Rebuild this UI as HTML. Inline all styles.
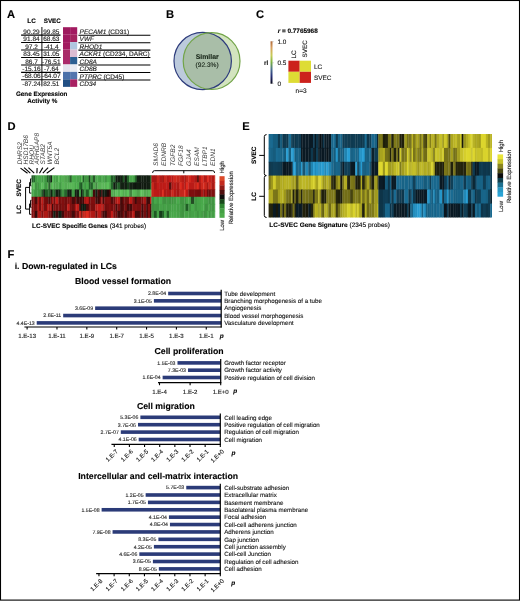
<!DOCTYPE html>
<html><head><meta charset="utf-8"><style>
html,body{margin:0;padding:0;background:#fff;}
svg{display:block;font-family:"Liberation Sans",sans-serif;will-change:transform;text-rendering:geometricPrecision;}
text{stroke:#000;stroke-width:0.12px;paint-order:stroke;}
text.ns{stroke:none;}
</style></head><body>
<svg width="520" height="601" viewBox="0 0 520 601">
<rect x="0" y="0" width="520" height="601" fill="#fff"/>
<rect x="0.5" y="0.5" width="519" height="599.6" fill="none" stroke="#000" stroke-width="1.1"/>
<text x="7.10" y="17.50" font-size="11.2" font-weight="bold">A</text>
<text x="165.90" y="17.50" font-size="11.2" font-weight="bold">B</text>
<text x="255.90" y="17.70" font-size="11.2" font-weight="bold">C</text>
<text x="7.60" y="130.30" font-size="11.2" font-weight="bold">D</text>
<text x="242.20" y="130.30" font-size="11.2" font-weight="bold">E</text>
<text x="7.60" y="257.80" font-size="11.2" font-weight="bold">F</text>
<text x="31.60" y="22.80" font-size="6.4" font-weight="bold" text-anchor="middle">LC</text>
<text x="52.30" y="22.80" font-size="6.3" font-weight="bold" text-anchor="middle">SVEC</text>
<text x="31.50" y="33.70" font-size="6.5" text-anchor="middle" fill="#222">90.29</text>
<text x="51.30" y="33.70" font-size="6.5" text-anchor="middle" fill="#222">99.85</text>
<text x="31.50" y="41.15" font-size="6.5" text-anchor="middle" fill="#222">91.84</text>
<text x="51.30" y="41.15" font-size="6.5" text-anchor="middle" fill="#222">68.63</text>
<text x="31.50" y="48.60" font-size="6.5" text-anchor="middle" fill="#222">97.2</text>
<text x="51.30" y="48.60" font-size="6.5" text-anchor="middle" fill="#222">-41.4</text>
<text x="31.50" y="56.05" font-size="6.5" text-anchor="middle" fill="#222">83.45</text>
<text x="51.30" y="56.05" font-size="6.5" text-anchor="middle" fill="#222">31.05</text>
<text x="31.50" y="63.50" font-size="6.5" text-anchor="middle" fill="#222">86.7</text>
<text x="51.30" y="63.50" font-size="6.5" text-anchor="middle" fill="#222">-76.51</text>
<text x="31.50" y="70.95" font-size="6.5" text-anchor="middle" fill="#222">-15.16</text>
<text x="51.30" y="70.95" font-size="6.5" text-anchor="middle" fill="#222">-7.64</text>
<text x="31.50" y="78.40" font-size="6.5" text-anchor="middle" fill="#222">-68.06</text>
<text x="51.30" y="78.40" font-size="6.5" text-anchor="middle" fill="#222">-64.07</text>
<text x="31.50" y="85.85" font-size="6.5" text-anchor="middle" fill="#222">-87.24</text>
<text x="51.30" y="85.85" font-size="6.5" text-anchor="middle" fill="#222">82.51</text>
<line x1="21.10" y1="35.10" x2="60.50" y2="35.10" stroke="#000" stroke-width="1.05"/>
<line x1="21.10" y1="42.55" x2="60.50" y2="42.55" stroke="#000" stroke-width="1.05"/>
<line x1="21.10" y1="50.00" x2="60.50" y2="50.00" stroke="#000" stroke-width="1.05"/>
<line x1="21.10" y1="57.45" x2="60.50" y2="57.45" stroke="#000" stroke-width="1.05"/>
<line x1="21.10" y1="64.90" x2="60.50" y2="64.90" stroke="#000" stroke-width="1.05"/>
<line x1="21.10" y1="72.35" x2="60.50" y2="72.35" stroke="#000" stroke-width="1.05"/>
<line x1="21.10" y1="79.80" x2="60.50" y2="79.80" stroke="#000" stroke-width="1.05"/>
<line x1="41.90" y1="27.00" x2="41.90" y2="86.30" stroke="#000" stroke-width="0.95"/>
<rect x="63.00" y="27.20" width="7.10" height="7.50" fill="#9e1a5e"/>
<rect x="70.10" y="27.20" width="7.10" height="7.50" fill="#a21a60"/>
<rect x="63.00" y="34.65" width="7.10" height="7.50" fill="#a01a60"/>
<rect x="70.10" y="34.65" width="7.10" height="7.50" fill="#a4245f"/>
<rect x="63.00" y="42.10" width="7.10" height="7.50" fill="#a21c60"/>
<rect x="70.10" y="42.10" width="7.10" height="7.50" fill="#b0c6df"/>
<rect x="63.00" y="49.55" width="7.10" height="7.50" fill="#a82c68"/>
<rect x="70.10" y="49.55" width="7.10" height="7.50" fill="#dcbcd2"/>
<rect x="63.00" y="57.00" width="7.10" height="7.50" fill="#aa2a6a"/>
<rect x="70.10" y="57.00" width="7.10" height="7.50" fill="#2b5e92"/>
<rect x="63.00" y="64.45" width="7.10" height="7.50" fill="#e4e4ee"/>
<rect x="70.10" y="64.45" width="7.10" height="7.50" fill="#e8eaf3"/>
<rect x="63.00" y="71.90" width="7.10" height="7.50" fill="#4b71a9"/>
<rect x="70.10" y="71.90" width="7.10" height="7.50" fill="#5475ae"/>
<rect x="63.00" y="79.35" width="7.10" height="7.50" fill="#214f84"/>
<rect x="70.10" y="79.35" width="7.10" height="7.50" fill="#a82062"/>
<text x="79.6" y="33.90" font-size="6.5" fill="#222"><tspan font-style="italic">PECAM1</tspan> (CD31)</text>
<text x="79.6" y="41.35" font-size="6.5" fill="#222"><tspan font-style="italic">VWF</tspan></text>
<text x="79.6" y="48.80" font-size="6.5" fill="#222"><tspan font-style="italic">RHOD1</tspan></text>
<text x="79.6" y="56.25" font-size="6.5" fill="#222"><tspan font-style="italic">ACKR1</tspan> (CD234, DARC)</text>
<text x="79.6" y="63.70" font-size="6.5" fill="#222"><tspan font-style="italic">CD8A</tspan></text>
<text x="79.6" y="71.15" font-size="6.5" fill="#222"><tspan font-style="italic">CD8B</tspan></text>
<text x="79.6" y="78.60" font-size="6.5" fill="#222"><tspan font-style="italic">PTPRC</tspan> (CD45)</text>
<text x="79.6" y="86.05" font-size="6.5" fill="#222"><tspan font-style="italic">CD34</tspan></text>
<line x1="78.40" y1="35.20" x2="150.40" y2="35.20" stroke="#000" stroke-width="1.05"/>
<line x1="78.40" y1="42.65" x2="150.40" y2="42.65" stroke="#000" stroke-width="1.05"/>
<line x1="78.40" y1="50.10" x2="150.40" y2="50.10" stroke="#000" stroke-width="1.05"/>
<line x1="78.40" y1="57.55" x2="150.40" y2="57.55" stroke="#000" stroke-width="1.05"/>
<line x1="78.40" y1="65.00" x2="150.40" y2="65.00" stroke="#000" stroke-width="1.05"/>
<line x1="78.40" y1="72.45" x2="150.40" y2="72.45" stroke="#000" stroke-width="1.05"/>
<line x1="78.40" y1="79.90" x2="150.40" y2="79.90" stroke="#000" stroke-width="1.05"/>
<text x="41.70" y="95.60" font-size="6.3" font-weight="bold" text-anchor="middle">Gene Expression</text>
<text x="42.30" y="103.20" font-size="6.3" font-weight="bold" text-anchor="middle">Activity %</text>
<defs><clipPath id="cg"><circle cx="211.6" cy="61" r="28.4"/></clipPath></defs>
<circle cx="211.6" cy="61" r="28.4" fill="#d3e4bf"/>
<circle cx="202.7" cy="61" r="28.7" fill="#bccadc"/>
<circle cx="202.7" cy="61" r="28.7" fill="#a9bea8" clip-path="url(#cg)"/>
<circle cx="202.7" cy="61" r="28.7" fill="none" stroke="#2e3c7c" stroke-width="1.2"/>
<circle cx="211.6" cy="61" r="28.4" fill="none" stroke="#72a448" stroke-width="1.2"/>
<text x="207.20" y="59.40" font-size="6.9" font-weight="bold" text-anchor="middle" fill="#1a2a1a">Similar</text>
<text x="207.10" y="67.20" font-size="6.6" text-anchor="middle" fill="#1a2a1a">(92.3%)</text>
<text x="277.7" y="32.8" font-size="6.4" font-weight="bold"><tspan font-style="italic">r</tspan> = 0.7765968</text>
<defs><linearGradient id="cb" x1="0" y1="0" x2="0" y2="1"><stop offset="0" stop-color="#b06a3a"/><stop offset="0.15" stop-color="#d8a060"/><stop offset="0.33" stop-color="#c8cc58"/><stop offset="0.5" stop-color="#78b040"/><stop offset="0.66" stop-color="#4a7090"/><stop offset="0.82" stop-color="#283078"/><stop offset="1" stop-color="#080818"/></linearGradient></defs>
<rect x="270.50" y="41.30" width="2.00" height="42.40" fill="url(#cb)"/>
<text x="277.50" y="43.90" font-size="6.4" fill="#222">1.0</text>
<line x1="272.50" y1="41.70" x2="273.60" y2="41.70" stroke="#888" stroke-width="0.5"/>
<text x="277.50" y="65.00" font-size="6.4" fill="#222">0.5</text>
<line x1="272.50" y1="62.80" x2="273.60" y2="62.80" stroke="#888" stroke-width="0.5"/>
<text x="277.50" y="85.60" font-size="6.4" fill="#222">0</text>
<line x1="272.50" y1="83.40" x2="273.60" y2="83.40" stroke="#888" stroke-width="0.5"/>
<text x="264.00" y="65.20" font-size="6.4" font-weight="bold" fill="#222">rl</text>
<rect x="288.40" y="60.70" width="11.30" height="11.10" fill="#cc221c"/>
<rect x="299.70" y="60.70" width="11.30" height="11.10" fill="#dedc34"/>
<rect x="288.40" y="71.80" width="11.30" height="11.10" fill="#dedc34"/>
<rect x="299.70" y="71.80" width="11.30" height="11.10" fill="#cc221c"/>
<text x="296.40" y="58.60" font-size="6.4" text-anchor="start" fill="#222" transform="rotate(-90 296.40 58.60)">LC</text>
<text x="307.40" y="57.40" font-size="6.3" text-anchor="start" fill="#222" transform="rotate(-90 307.40 57.40)">SVEC</text>
<text x="314.00" y="68.90" font-size="6.5" fill="#222">LC</text>
<text x="314.00" y="79.60" font-size="6.4" fill="#222">SVEC</text>
<text x="301.20" y="93.00" font-size="6.6" text-anchor="middle" fill="#222">n=3</text>
<text x="21.80" y="164.40" font-size="6.6" font-style="italic" fill="#3a3a3a" transform="rotate(-90 21.80 164.40)" class="ns">DHRS2</text>
<text x="28.20" y="164.40" font-size="6.6" font-style="italic" fill="#3a3a3a" transform="rotate(-90 28.20 164.40)" class="ns">HSD17B6</text>
<text x="33.80" y="164.40" font-size="6.6" font-style="italic" fill="#3a3a3a" transform="rotate(-90 33.80 164.40)" class="ns">RHOU</text>
<text x="39.50" y="164.40" font-size="6.6" font-style="italic" fill="#3a3a3a" transform="rotate(-90 39.50 164.40)" class="ns">ARHGAP8</text>
<text x="45.40" y="164.40" font-size="6.6" font-style="italic" fill="#3a3a3a" transform="rotate(-90 45.40 164.40)" class="ns">STAB2</text>
<text x="52.10" y="164.40" font-size="6.6" font-style="italic" fill="#3a3a3a" transform="rotate(-90 52.10 164.40)" class="ns">WNT5A</text>
<text x="58.80" y="164.40" font-size="6.6" font-style="italic" fill="#3a3a3a" transform="rotate(-90 58.80 164.40)" class="ns">BCL2</text>
<line x1="20.50" y1="168.10" x2="27.50" y2="173.20" stroke="#000" stroke-width="1.1"/>
<line x1="24.10" y1="167.60" x2="30.30" y2="173.20" stroke="#000" stroke-width="1.1"/>
<line x1="28.40" y1="167.60" x2="34.20" y2="173.20" stroke="#000" stroke-width="1.1"/>
<line x1="37.10" y1="168.00" x2="36.90" y2="173.20" stroke="#000" stroke-width="1.1"/>
<line x1="42.80" y1="167.60" x2="39.50" y2="173.20" stroke="#000" stroke-width="1.1"/>
<line x1="48.10" y1="167.60" x2="42.80" y2="173.20" stroke="#000" stroke-width="1.1"/>
<line x1="54.40" y1="167.60" x2="46.70" y2="173.20" stroke="#000" stroke-width="1.1"/>
<text x="157.70" y="165.90" font-size="6.6" font-style="italic" fill="#3a3a3a" transform="rotate(-90 157.70 165.90)" class="ns">SMAD6</text>
<text x="166.20" y="165.90" font-size="6.6" font-style="italic" fill="#3a3a3a" transform="rotate(-90 166.20 165.90)" class="ns">EDNRB</text>
<text x="174.80" y="165.90" font-size="6.6" font-style="italic" fill="#3a3a3a" transform="rotate(-90 174.80 165.90)" class="ns">TGFB2</text>
<text x="182.90" y="165.90" font-size="6.6" font-style="italic" fill="#3a3a3a" transform="rotate(-90 182.90 165.90)" class="ns">FGF18</text>
<text x="191.30" y="165.90" font-size="6.6" font-style="italic" fill="#3a3a3a" transform="rotate(-90 191.30 165.90)" class="ns">GJA4</text>
<text x="199.20" y="165.90" font-size="6.6" font-style="italic" fill="#3a3a3a" transform="rotate(-90 199.20 165.90)" class="ns">ESAM</text>
<text x="206.90" y="165.90" font-size="6.6" font-style="italic" fill="#3a3a3a" transform="rotate(-90 206.90 165.90)" class="ns">LTBP1</text>
<text x="214.90" y="165.90" font-size="6.6" font-style="italic" fill="#3a3a3a" transform="rotate(-90 214.90 165.90)" class="ns">EDN1</text>
<path d="M152.6,172.9 Q152.6,170.7 154.4,170.7 L212.8,170.7 Q214.6,170.7 214.6,172.9 M183.8,170.7 L183.8,173.3" fill="none" stroke="#000" stroke-width="1.0"/>
<path d="M31.5,178.8 H30.6 V185.9 H31.5 M30.6,182.4 H29.6 V193.1 H31.5 M29.6,187.4 H25.6 V209.1 H29.6 M31.5,200.3 H30.6 V207.4 H31.5 M30.6,203.9 H29.6 V214.3 H31.5" fill="none" stroke="#000" stroke-width="1.0"/>
<text x="20.90" y="187.80" font-size="6.4" font-weight="bold" text-anchor="middle" transform="rotate(-90 20.90 187.80)">SVEC</text>
<text x="20.90" y="209.50" font-size="6.4" font-weight="bold" text-anchor="middle" transform="rotate(-90 20.90 209.50)">LC</text>
<rect x="219.50" y="176.20" width="5.10" height="4.89" fill="#dc4a2a"/>
<rect x="219.50" y="180.79" width="5.10" height="4.89" fill="#c42a1e"/>
<rect x="219.50" y="185.38" width="5.10" height="4.89" fill="#901a16"/>
<rect x="219.50" y="189.97" width="5.10" height="4.89" fill="#501010"/>
<rect x="219.50" y="194.56" width="5.10" height="4.89" fill="#0e0e0e"/>
<rect x="219.50" y="199.14" width="5.10" height="4.89" fill="#1a4a1c"/>
<rect x="219.50" y="203.73" width="5.10" height="4.89" fill="#2e8430"/>
<rect x="219.50" y="208.32" width="5.10" height="4.89" fill="#44a044"/>
<rect x="219.50" y="212.91" width="5.10" height="4.89" fill="#4caa4a"/>
<text x="224.00" y="173.40" font-size="6.0" fill="#222" transform="rotate(-90 224.00 173.40)">High</text>
<text x="224.00" y="230.80" font-size="6.0" fill="#222" transform="rotate(-90 224.00 230.80)">Low</text>
<text x="233.40" y="224.30" font-size="6.0" fill="#222" transform="rotate(-90 233.40 224.30)">Relative Expression</text>
<text x="32.1" y="227.9" font-size="6.42"><tspan font-weight="bold">LC-SVEC Specific Genes</tspan> (341 probes)</text>
<path d="M266.6,134.6 Q264.3,134.6 264.3,136.6 V173.6 Q264.3,175.6 266.3,175.6 Q264.3,175.6 264.3,177.6 V215.5 Q264.3,217.5 266.6,217.5 M264.3,155.4 H259.2 M264.3,196.3 H259.2" fill="none" stroke="#000" stroke-width="1.0"/>
<text x="256.10" y="155.40" font-size="6.4" font-weight="bold" text-anchor="middle" transform="rotate(-90 256.10 155.40)">SVEC</text>
<text x="256.10" y="196.50" font-size="6.4" font-weight="bold" text-anchor="middle" transform="rotate(-90 256.10 196.50)">LC</text>
<rect x="497.50" y="154.40" width="5.60" height="5.00" fill="#e8e43a"/>
<rect x="497.50" y="159.10" width="5.60" height="5.00" fill="#c8c42a"/>
<rect x="497.50" y="163.80" width="5.60" height="5.00" fill="#8a8620"/>
<rect x="497.50" y="168.50" width="5.60" height="5.00" fill="#4a4812"/>
<rect x="497.50" y="173.20" width="5.60" height="5.00" fill="#0c0c0c"/>
<rect x="497.50" y="177.90" width="5.60" height="5.00" fill="#10404e"/>
<rect x="497.50" y="182.60" width="5.60" height="5.00" fill="#1c7090"/>
<rect x="497.50" y="187.30" width="5.60" height="5.00" fill="#2898c4"/>
<rect x="497.50" y="192.00" width="5.60" height="4.70" fill="#2aa4d6"/>
<text x="503.20" y="152.30" font-size="6.0" fill="#222" transform="rotate(-90 503.20 152.30)">High</text>
<text x="503.20" y="212.00" font-size="6.0" fill="#222" transform="rotate(-90 503.20 212.00)">Low</text>
<text x="511.40" y="203.00" font-size="6.0" fill="#222" transform="rotate(-90 511.40 203.00)">Relative Expression</text>
<text x="269.3" y="226.9" font-size="6.5"><tspan font-weight="bold">LC-SVEC Gene Signature</tspan> (2345 probes)</text>
<rect x="31.50" y="175.30" width="2.22" height="7.60" fill="#205c26"/>
<rect x="33.42" y="175.30" width="1.89" height="7.60" fill="#24662b"/>
<rect x="35.00" y="175.30" width="2.84" height="7.60" fill="#439d45"/>
<rect x="37.54" y="175.30" width="1.74" height="7.60" fill="#49a94b"/>
<rect x="38.98" y="175.30" width="2.62" height="7.60" fill="#48a84b"/>
<rect x="41.29" y="175.30" width="2.29" height="7.60" fill="#439c45"/>
<rect x="43.29" y="175.30" width="1.71" height="7.60" fill="#49a94b"/>
<rect x="44.70" y="175.30" width="2.56" height="7.60" fill="#409442"/>
<rect x="46.96" y="175.30" width="1.67" height="7.60" fill="#205b26"/>
<rect x="48.33" y="175.30" width="2.42" height="7.60" fill="#226028"/>
<rect x="50.46" y="175.30" width="1.73" height="7.60" fill="#0d140d"/>
<rect x="51.89" y="175.30" width="1.77" height="7.60" fill="#58b656"/>
<rect x="53.36" y="175.30" width="2.41" height="7.60" fill="#46a348"/>
<rect x="55.47" y="175.30" width="3.17" height="7.60" fill="#46a248"/>
<rect x="58.34" y="175.30" width="1.84" height="7.60" fill="#5cbf5a"/>
<rect x="59.88" y="175.30" width="2.02" height="7.60" fill="#48a64a"/>
<rect x="61.60" y="175.30" width="2.79" height="7.60" fill="#54af52"/>
<rect x="64.09" y="175.30" width="3.40" height="7.60" fill="#4fa44d"/>
<rect x="67.19" y="175.30" width="2.70" height="7.60" fill="#439c45"/>
<rect x="69.59" y="175.30" width="2.35" height="7.60" fill="#2c622d"/>
<rect x="71.64" y="175.30" width="3.45" height="7.60" fill="#49ab4c"/>
<rect x="74.80" y="175.30" width="1.69" height="7.60" fill="#49a94b"/>
<rect x="76.19" y="175.30" width="3.23" height="7.60" fill="#46a248"/>
<rect x="79.12" y="175.30" width="2.15" height="7.60" fill="#429a44"/>
<rect x="80.97" y="175.30" width="1.87" height="7.60" fill="#5ec25b"/>
<rect x="82.54" y="175.30" width="1.82" height="7.60" fill="#226028"/>
<rect x="84.07" y="175.30" width="2.19" height="7.60" fill="#3f9341"/>
<rect x="85.95" y="175.30" width="3.15" height="7.60" fill="#419743"/>
<rect x="88.80" y="175.30" width="1.94" height="7.60" fill="#1f4220"/>
<rect x="90.45" y="175.30" width="2.71" height="7.60" fill="#449f46"/>
<rect x="92.85" y="175.30" width="2.81" height="7.60" fill="#295a2a"/>
<rect x="95.37" y="175.30" width="2.31" height="7.60" fill="#4aac4c"/>
<rect x="97.37" y="175.30" width="2.64" height="7.60" fill="#46a448"/>
<rect x="99.71" y="175.30" width="1.72" height="7.60" fill="#429a44"/>
<rect x="101.13" y="175.30" width="1.71" height="7.60" fill="#47a649"/>
<rect x="102.55" y="175.30" width="1.99" height="7.60" fill="#47a64a"/>
<rect x="104.24" y="175.30" width="2.89" height="7.60" fill="#419643"/>
<rect x="106.83" y="175.30" width="2.41" height="7.60" fill="#4aac4c"/>
<rect x="108.94" y="175.30" width="2.20" height="7.60" fill="#48a74a"/>
<rect x="110.84" y="175.30" width="2.71" height="7.60" fill="#205b26"/>
<rect x="113.25" y="175.30" width="2.46" height="7.60" fill="#25682c"/>
<rect x="115.41" y="175.30" width="2.17" height="7.60" fill="#111d11"/>
<rect x="117.28" y="175.30" width="3.11" height="7.60" fill="#121e12"/>
<rect x="120.09" y="175.30" width="2.93" height="7.60" fill="#132013"/>
<rect x="122.72" y="175.30" width="2.06" height="7.60" fill="#205925"/>
<rect x="124.48" y="175.30" width="2.69" height="7.60" fill="#111c11"/>
<rect x="126.88" y="175.30" width="2.60" height="7.60" fill="#226028"/>
<rect x="129.17" y="175.30" width="3.26" height="7.60" fill="#48a74a"/>
<rect x="132.14" y="175.30" width="2.99" height="7.60" fill="#46a348"/>
<rect x="134.82" y="175.30" width="2.15" height="7.60" fill="#24642a"/>
<rect x="136.67" y="175.30" width="3.46" height="7.60" fill="#121e12"/>
<rect x="139.83" y="175.30" width="1.82" height="7.60" fill="#132013"/>
<rect x="141.36" y="175.30" width="2.39" height="7.60" fill="#121e12"/>
<rect x="143.45" y="175.30" width="3.04" height="7.60" fill="#131f13"/>
<rect x="146.19" y="175.30" width="1.89" height="7.60" fill="#101b10"/>
<rect x="147.78" y="175.30" width="2.53" height="7.60" fill="#132013"/>
<rect x="150.01" y="175.30" width="1.67" height="7.60" fill="#25682b"/>
<rect x="151.38" y="175.30" width="2.87" height="7.60" fill="#a91815"/>
<rect x="153.95" y="175.30" width="3.05" height="7.60" fill="#a41814"/>
<rect x="156.70" y="175.30" width="2.69" height="7.60" fill="#c5271c"/>
<rect x="159.09" y="175.30" width="3.26" height="7.60" fill="#b21a16"/>
<rect x="162.06" y="175.30" width="2.20" height="7.60" fill="#a51814"/>
<rect x="163.95" y="175.30" width="2.92" height="7.60" fill="#ca281d"/>
<rect x="166.57" y="175.30" width="2.73" height="7.60" fill="#b51a16"/>
<rect x="169.00" y="175.30" width="2.70" height="7.60" fill="#c11c18"/>
<rect x="171.40" y="175.30" width="2.47" height="7.60" fill="#b91b17"/>
<rect x="173.57" y="175.30" width="3.20" height="7.60" fill="#d1291e"/>
<rect x="176.47" y="175.30" width="3.39" height="7.60" fill="#c6271c"/>
<rect x="179.56" y="175.30" width="2.50" height="7.60" fill="#c2261b"/>
<rect x="181.76" y="175.30" width="2.86" height="7.60" fill="#b81b16"/>
<rect x="184.32" y="175.30" width="1.72" height="7.60" fill="#a91815"/>
<rect x="185.74" y="175.30" width="2.93" height="7.60" fill="#c6271c"/>
<rect x="188.37" y="175.30" width="2.83" height="7.60" fill="#d52a1e"/>
<rect x="190.90" y="175.30" width="3.49" height="7.60" fill="#c01c18"/>
<rect x="194.09" y="175.30" width="3.16" height="7.60" fill="#ad1915"/>
<rect x="196.95" y="175.30" width="2.14" height="7.60" fill="#5f1711"/>
<rect x="198.79" y="175.30" width="2.33" height="7.60" fill="#b21a16"/>
<rect x="200.82" y="175.30" width="2.87" height="7.60" fill="#d82b1f"/>
<rect x="203.39" y="175.30" width="1.64" height="7.60" fill="#b21a16"/>
<rect x="204.74" y="175.30" width="2.48" height="7.60" fill="#b41a16"/>
<rect x="206.91" y="175.30" width="1.92" height="7.60" fill="#e22d20"/>
<rect x="208.53" y="175.30" width="1.82" height="7.60" fill="#c21c18"/>
<rect x="210.06" y="175.30" width="1.71" height="7.60" fill="#bf1c17"/>
<rect x="211.47" y="175.30" width="3.06" height="7.60" fill="#b11916"/>
<rect x="214.23" y="175.30" width="0.97" height="7.60" fill="#ca281d"/>
<rect x="31.50" y="182.40" width="2.22" height="7.60" fill="#53ac51"/>
<rect x="33.42" y="182.40" width="1.89" height="7.60" fill="#5dc05b"/>
<rect x="35.00" y="182.40" width="2.84" height="7.60" fill="#409442"/>
<rect x="37.54" y="182.40" width="1.74" height="7.60" fill="#419642"/>
<rect x="38.98" y="182.40" width="2.62" height="7.60" fill="#49a94b"/>
<rect x="41.29" y="182.40" width="2.29" height="7.60" fill="#5bbd59"/>
<rect x="43.29" y="182.40" width="1.71" height="7.60" fill="#4aac4c"/>
<rect x="44.70" y="182.40" width="2.56" height="7.60" fill="#409542"/>
<rect x="46.96" y="182.40" width="1.67" height="7.60" fill="#54ae52"/>
<rect x="48.33" y="182.40" width="2.42" height="7.60" fill="#2c612d"/>
<rect x="50.46" y="182.40" width="1.73" height="7.60" fill="#53ab51"/>
<rect x="51.89" y="182.40" width="1.77" height="7.60" fill="#5ec25b"/>
<rect x="53.36" y="182.40" width="2.41" height="7.60" fill="#50a54e"/>
<rect x="55.47" y="182.40" width="3.17" height="7.60" fill="#52ab51"/>
<rect x="58.34" y="182.40" width="1.84" height="7.60" fill="#48a84a"/>
<rect x="59.88" y="182.40" width="2.02" height="7.60" fill="#439b45"/>
<rect x="61.60" y="182.40" width="2.79" height="7.60" fill="#57b455"/>
<rect x="64.09" y="182.40" width="3.40" height="7.60" fill="#53ab51"/>
<rect x="67.19" y="182.40" width="2.70" height="7.60" fill="#55b053"/>
<rect x="69.59" y="182.40" width="2.35" height="7.60" fill="#58b656"/>
<rect x="71.64" y="182.40" width="3.45" height="7.60" fill="#58b556"/>
<rect x="74.80" y="182.40" width="1.69" height="7.60" fill="#48a84b"/>
<rect x="76.19" y="182.40" width="3.23" height="7.60" fill="#4aac4c"/>
<rect x="79.12" y="182.40" width="2.15" height="7.60" fill="#25672b"/>
<rect x="80.97" y="182.40" width="1.87" height="7.60" fill="#1f5825"/>
<rect x="82.54" y="182.40" width="1.82" height="7.60" fill="#49aa4c"/>
<rect x="84.07" y="182.40" width="2.19" height="7.60" fill="#419743"/>
<rect x="85.95" y="182.40" width="3.15" height="7.60" fill="#49aa4b"/>
<rect x="88.80" y="182.40" width="1.94" height="7.60" fill="#226128"/>
<rect x="90.45" y="182.40" width="2.71" height="7.60" fill="#225f28"/>
<rect x="92.85" y="182.40" width="2.81" height="7.60" fill="#52ab51"/>
<rect x="95.37" y="182.40" width="2.31" height="7.60" fill="#438942"/>
<rect x="97.37" y="182.40" width="2.64" height="7.60" fill="#56b254"/>
<rect x="99.71" y="182.40" width="1.72" height="7.60" fill="#56b254"/>
<rect x="101.13" y="182.40" width="1.71" height="7.60" fill="#55b053"/>
<rect x="102.55" y="182.40" width="1.99" height="7.60" fill="#58b756"/>
<rect x="104.24" y="182.40" width="2.89" height="7.60" fill="#57b355"/>
<rect x="106.83" y="182.40" width="2.41" height="7.60" fill="#5dc15b"/>
<rect x="108.94" y="182.40" width="2.20" height="7.60" fill="#52a950"/>
<rect x="110.84" y="182.40" width="2.71" height="7.60" fill="#24662a"/>
<rect x="113.25" y="182.40" width="2.46" height="7.60" fill="#111c11"/>
<rect x="115.41" y="182.40" width="2.17" height="7.60" fill="#16381a"/>
<rect x="117.28" y="182.40" width="3.11" height="7.60" fill="#225f28"/>
<rect x="120.09" y="182.40" width="2.93" height="7.60" fill="#132013"/>
<rect x="122.72" y="182.40" width="2.06" height="7.60" fill="#142114"/>
<rect x="124.48" y="182.40" width="2.69" height="7.60" fill="#111d11"/>
<rect x="126.88" y="182.40" width="2.60" height="7.60" fill="#173a1a"/>
<rect x="129.17" y="182.40" width="3.26" height="7.60" fill="#142114"/>
<rect x="132.14" y="182.40" width="2.99" height="7.60" fill="#101b10"/>
<rect x="134.82" y="182.40" width="2.15" height="7.60" fill="#0e140e"/>
<rect x="136.67" y="182.40" width="3.46" height="7.60" fill="#111d11"/>
<rect x="139.83" y="182.40" width="1.82" height="7.60" fill="#0e160e"/>
<rect x="141.36" y="182.40" width="2.39" height="7.60" fill="#111c11"/>
<rect x="143.45" y="182.40" width="3.04" height="7.60" fill="#101b10"/>
<rect x="146.19" y="182.40" width="1.89" height="7.60" fill="#111c11"/>
<rect x="147.78" y="182.40" width="2.53" height="7.60" fill="#131f13"/>
<rect x="150.01" y="182.40" width="1.67" height="7.60" fill="#215e27"/>
<rect x="151.38" y="182.40" width="2.87" height="7.60" fill="#c7271c"/>
<rect x="153.95" y="182.40" width="3.05" height="7.60" fill="#a81815"/>
<rect x="156.70" y="182.40" width="2.69" height="7.60" fill="#c11c18"/>
<rect x="159.09" y="182.40" width="3.26" height="7.60" fill="#bb1b17"/>
<rect x="162.06" y="182.40" width="2.20" height="7.60" fill="#bc1b17"/>
<rect x="163.95" y="182.40" width="2.92" height="7.60" fill="#bf1c17"/>
<rect x="166.57" y="182.40" width="2.73" height="7.60" fill="#ba1b17"/>
<rect x="169.00" y="182.40" width="2.70" height="7.60" fill="#59100e"/>
<rect x="171.40" y="182.40" width="2.47" height="7.60" fill="#b01916"/>
<rect x="173.57" y="182.40" width="3.20" height="7.60" fill="#b81b17"/>
<rect x="176.47" y="182.40" width="3.39" height="7.60" fill="#ac1915"/>
<rect x="179.56" y="182.40" width="2.50" height="7.60" fill="#df2c20"/>
<rect x="181.76" y="182.40" width="2.86" height="7.60" fill="#c11c18"/>
<rect x="184.32" y="182.40" width="1.72" height="7.60" fill="#a61814"/>
<rect x="185.74" y="182.40" width="2.93" height="7.60" fill="#e02c20"/>
<rect x="188.37" y="182.40" width="2.83" height="7.60" fill="#bb1b17"/>
<rect x="190.90" y="182.40" width="3.49" height="7.60" fill="#b91b17"/>
<rect x="194.09" y="182.40" width="3.16" height="7.60" fill="#c4271c"/>
<rect x="196.95" y="182.40" width="2.14" height="7.60" fill="#de2c1f"/>
<rect x="198.79" y="182.40" width="2.33" height="7.60" fill="#aa1915"/>
<rect x="200.82" y="182.40" width="2.87" height="7.60" fill="#cb281d"/>
<rect x="203.39" y="182.40" width="1.64" height="7.60" fill="#d92b1f"/>
<rect x="204.74" y="182.40" width="2.48" height="7.60" fill="#c3271c"/>
<rect x="206.91" y="182.40" width="1.92" height="7.60" fill="#a71814"/>
<rect x="208.53" y="182.40" width="1.82" height="7.60" fill="#cc281d"/>
<rect x="210.06" y="182.40" width="1.71" height="7.60" fill="#d32a1e"/>
<rect x="211.47" y="182.40" width="3.06" height="7.60" fill="#aa1915"/>
<rect x="214.23" y="182.40" width="0.97" height="7.60" fill="#c2261b"/>
<rect x="31.50" y="189.50" width="2.22" height="7.80" fill="#48a74a"/>
<rect x="33.42" y="189.50" width="1.89" height="7.80" fill="#439d45"/>
<rect x="35.00" y="189.50" width="2.84" height="7.80" fill="#409642"/>
<rect x="37.54" y="189.50" width="1.74" height="7.80" fill="#409642"/>
<rect x="38.98" y="189.50" width="2.62" height="7.80" fill="#409441"/>
<rect x="41.29" y="189.50" width="2.29" height="7.80" fill="#205a25"/>
<rect x="43.29" y="189.50" width="1.71" height="7.80" fill="#111d11"/>
<rect x="44.70" y="189.50" width="2.56" height="7.80" fill="#205b26"/>
<rect x="46.96" y="189.50" width="1.67" height="7.80" fill="#215e27"/>
<rect x="48.33" y="189.50" width="2.42" height="7.80" fill="#236329"/>
<rect x="50.46" y="189.50" width="1.73" height="7.80" fill="#111c11"/>
<rect x="51.89" y="189.50" width="1.77" height="7.80" fill="#205925"/>
<rect x="53.36" y="189.50" width="2.41" height="7.80" fill="#24642a"/>
<rect x="55.47" y="189.50" width="3.17" height="7.80" fill="#132013"/>
<rect x="58.34" y="189.50" width="1.84" height="7.80" fill="#132013"/>
<rect x="59.88" y="189.50" width="2.02" height="7.80" fill="#1f5825"/>
<rect x="61.60" y="189.50" width="2.79" height="7.80" fill="#3f9241"/>
<rect x="64.09" y="189.50" width="3.40" height="7.80" fill="#24662b"/>
<rect x="67.19" y="189.50" width="2.70" height="7.80" fill="#132013"/>
<rect x="69.59" y="189.50" width="2.35" height="7.80" fill="#111d11"/>
<rect x="71.64" y="189.50" width="3.45" height="7.80" fill="#429944"/>
<rect x="74.80" y="189.50" width="1.69" height="7.80" fill="#132013"/>
<rect x="76.19" y="189.50" width="3.23" height="7.80" fill="#132013"/>
<rect x="79.12" y="189.50" width="2.15" height="7.80" fill="#409642"/>
<rect x="80.97" y="189.50" width="1.87" height="7.80" fill="#121e12"/>
<rect x="82.54" y="189.50" width="1.82" height="7.80" fill="#226028"/>
<rect x="84.07" y="189.50" width="2.19" height="7.80" fill="#3f9341"/>
<rect x="85.95" y="189.50" width="3.15" height="7.80" fill="#215c26"/>
<rect x="88.80" y="189.50" width="1.94" height="7.80" fill="#47a549"/>
<rect x="90.45" y="189.50" width="2.71" height="7.80" fill="#439b45"/>
<rect x="92.85" y="189.50" width="2.81" height="7.80" fill="#430a0a"/>
<rect x="95.37" y="189.50" width="2.31" height="7.80" fill="#121f12"/>
<rect x="97.37" y="189.50" width="2.64" height="7.80" fill="#470b0b"/>
<rect x="99.71" y="189.50" width="1.72" height="7.80" fill="#121e12"/>
<rect x="101.13" y="189.50" width="1.71" height="7.80" fill="#410a0a"/>
<rect x="102.55" y="189.50" width="1.99" height="7.80" fill="#111c11"/>
<rect x="104.24" y="189.50" width="2.89" height="7.80" fill="#111d11"/>
<rect x="106.83" y="189.50" width="2.41" height="7.80" fill="#200909"/>
<rect x="108.94" y="189.50" width="2.20" height="7.80" fill="#410a0a"/>
<rect x="110.84" y="189.50" width="2.71" height="7.80" fill="#54ae52"/>
<rect x="113.25" y="189.50" width="2.46" height="7.80" fill="#4fa44d"/>
<rect x="115.41" y="189.50" width="2.17" height="7.80" fill="#5dc15b"/>
<rect x="117.28" y="189.50" width="3.11" height="7.80" fill="#56b254"/>
<rect x="120.09" y="189.50" width="2.93" height="7.80" fill="#5cbe59"/>
<rect x="122.72" y="189.50" width="2.06" height="7.80" fill="#52ab51"/>
<rect x="124.48" y="189.50" width="2.69" height="7.80" fill="#54af52"/>
<rect x="126.88" y="189.50" width="2.60" height="7.80" fill="#5dc15b"/>
<rect x="129.17" y="189.50" width="3.26" height="7.80" fill="#428640"/>
<rect x="132.14" y="189.50" width="2.99" height="7.80" fill="#59b957"/>
<rect x="134.82" y="189.50" width="2.15" height="7.80" fill="#56b154"/>
<rect x="136.67" y="189.50" width="3.46" height="7.80" fill="#4ea24c"/>
<rect x="139.83" y="189.50" width="1.82" height="7.80" fill="#5dc05a"/>
<rect x="141.36" y="189.50" width="2.39" height="7.80" fill="#5cbd59"/>
<rect x="143.45" y="189.50" width="3.04" height="7.80" fill="#52aa50"/>
<rect x="146.19" y="189.50" width="1.89" height="7.80" fill="#51a74f"/>
<rect x="147.78" y="189.50" width="2.53" height="7.80" fill="#59b857"/>
<rect x="150.01" y="189.50" width="1.67" height="7.80" fill="#59b957"/>
<rect x="151.38" y="189.50" width="2.87" height="7.80" fill="#c4271c"/>
<rect x="153.95" y="189.50" width="3.05" height="7.80" fill="#bd1b17"/>
<rect x="156.70" y="189.50" width="2.69" height="7.80" fill="#b91b17"/>
<rect x="159.09" y="189.50" width="3.26" height="7.80" fill="#b81b17"/>
<rect x="162.06" y="189.50" width="2.20" height="7.80" fill="#dc2c1f"/>
<rect x="163.95" y="189.50" width="2.92" height="7.80" fill="#ae1915"/>
<rect x="166.57" y="189.50" width="2.73" height="7.80" fill="#b01916"/>
<rect x="169.00" y="189.50" width="2.70" height="7.80" fill="#a41814"/>
<rect x="171.40" y="189.50" width="2.47" height="7.80" fill="#cc281d"/>
<rect x="173.57" y="189.50" width="3.20" height="7.80" fill="#b31a16"/>
<rect x="176.47" y="189.50" width="3.39" height="7.80" fill="#a51814"/>
<rect x="179.56" y="189.50" width="2.50" height="7.80" fill="#c3271c"/>
<rect x="181.76" y="189.50" width="2.86" height="7.80" fill="#c4271c"/>
<rect x="184.32" y="189.50" width="1.72" height="7.80" fill="#e42d20"/>
<rect x="185.74" y="189.50" width="2.93" height="7.80" fill="#ba1b17"/>
<rect x="188.37" y="189.50" width="2.83" height="7.80" fill="#7e0e0e"/>
<rect x="190.90" y="189.50" width="3.49" height="7.80" fill="#7f0f0f"/>
<rect x="194.09" y="189.50" width="3.16" height="7.80" fill="#7a0e0e"/>
<rect x="196.95" y="189.50" width="2.14" height="7.80" fill="#740d0d"/>
<rect x="198.79" y="189.50" width="2.33" height="7.80" fill="#710d0d"/>
<rect x="200.82" y="189.50" width="2.87" height="7.80" fill="#aa1915"/>
<rect x="203.39" y="189.50" width="1.64" height="7.80" fill="#830f0f"/>
<rect x="204.74" y="189.50" width="2.48" height="7.80" fill="#a91815"/>
<rect x="206.91" y="189.50" width="1.92" height="7.80" fill="#700d0d"/>
<rect x="208.53" y="189.50" width="1.82" height="7.80" fill="#700d0d"/>
<rect x="210.06" y="189.50" width="1.71" height="7.80" fill="#790e0e"/>
<rect x="211.47" y="189.50" width="3.06" height="7.80" fill="#7f0f0f"/>
<rect x="214.23" y="189.50" width="0.97" height="7.80" fill="#760e0e"/>
<rect x="31.50" y="196.80" width="2.22" height="7.60" fill="#700d0d"/>
<rect x="33.42" y="196.80" width="1.89" height="7.60" fill="#810f0f"/>
<rect x="35.00" y="196.80" width="2.84" height="7.60" fill="#4a0b0b"/>
<rect x="37.54" y="196.80" width="1.74" height="7.60" fill="#b11a16"/>
<rect x="38.98" y="196.80" width="2.62" height="7.60" fill="#770e0e"/>
<rect x="41.29" y="196.80" width="2.29" height="7.60" fill="#be1c17"/>
<rect x="43.29" y="196.80" width="1.71" height="7.60" fill="#7f0f0f"/>
<rect x="44.70" y="196.80" width="2.56" height="7.60" fill="#730d0d"/>
<rect x="46.96" y="196.80" width="1.67" height="7.60" fill="#700d0d"/>
<rect x="48.33" y="196.80" width="2.42" height="7.60" fill="#4f0b0b"/>
<rect x="50.46" y="196.80" width="1.73" height="7.60" fill="#750d0d"/>
<rect x="51.89" y="196.80" width="1.77" height="7.60" fill="#b01915"/>
<rect x="53.36" y="196.80" width="2.41" height="7.60" fill="#750d0d"/>
<rect x="55.47" y="196.80" width="3.17" height="7.60" fill="#c21c18"/>
<rect x="58.34" y="196.80" width="1.84" height="7.60" fill="#700d0d"/>
<rect x="59.88" y="196.80" width="2.02" height="7.60" fill="#7f0f0f"/>
<rect x="61.60" y="196.80" width="2.79" height="7.60" fill="#800f0f"/>
<rect x="64.09" y="196.80" width="3.40" height="7.60" fill="#720d0d"/>
<rect x="67.19" y="196.80" width="2.70" height="7.60" fill="#810f0f"/>
<rect x="69.59" y="196.80" width="2.35" height="7.60" fill="#800f0f"/>
<rect x="71.64" y="196.80" width="3.45" height="7.60" fill="#460b0b"/>
<rect x="74.80" y="196.80" width="1.69" height="7.60" fill="#710d0d"/>
<rect x="76.19" y="196.80" width="3.23" height="7.60" fill="#3f0a0a"/>
<rect x="79.12" y="196.80" width="2.15" height="7.60" fill="#420a0a"/>
<rect x="80.97" y="196.80" width="1.87" height="7.60" fill="#480b0b"/>
<rect x="82.54" y="196.80" width="1.82" height="7.60" fill="#3f0a0a"/>
<rect x="84.07" y="196.80" width="2.19" height="7.60" fill="#a71814"/>
<rect x="85.95" y="196.80" width="3.15" height="7.60" fill="#bb1b17"/>
<rect x="88.80" y="196.80" width="1.94" height="7.60" fill="#720d0d"/>
<rect x="90.45" y="196.80" width="2.71" height="7.60" fill="#7f0f0f"/>
<rect x="92.85" y="196.80" width="2.81" height="7.60" fill="#800f0f"/>
<rect x="95.37" y="196.80" width="2.31" height="7.60" fill="#430a0a"/>
<rect x="97.37" y="196.80" width="2.64" height="7.60" fill="#3e0909"/>
<rect x="99.71" y="196.80" width="1.72" height="7.60" fill="#740d0d"/>
<rect x="101.13" y="196.80" width="1.71" height="7.60" fill="#aa1915"/>
<rect x="102.55" y="196.80" width="1.99" height="7.60" fill="#480b0b"/>
<rect x="104.24" y="196.80" width="2.89" height="7.60" fill="#7d0e0e"/>
<rect x="106.83" y="196.80" width="2.41" height="7.60" fill="#850f0f"/>
<rect x="108.94" y="196.80" width="2.20" height="7.60" fill="#820f0f"/>
<rect x="110.84" y="196.80" width="2.71" height="7.60" fill="#530c0c"/>
<rect x="113.25" y="196.80" width="2.46" height="7.60" fill="#700d0d"/>
<rect x="115.41" y="196.80" width="2.17" height="7.60" fill="#aa1915"/>
<rect x="117.28" y="196.80" width="3.11" height="7.60" fill="#c01c17"/>
<rect x="120.09" y="196.80" width="2.93" height="7.60" fill="#450a0a"/>
<rect x="122.72" y="196.80" width="2.06" height="7.60" fill="#710d0d"/>
<rect x="124.48" y="196.80" width="2.69" height="7.60" fill="#6c1210"/>
<rect x="126.88" y="196.80" width="2.60" height="7.60" fill="#730d0d"/>
<rect x="129.17" y="196.80" width="3.26" height="7.60" fill="#bc1b17"/>
<rect x="132.14" y="196.80" width="2.99" height="7.60" fill="#810f0f"/>
<rect x="134.82" y="196.80" width="2.15" height="7.60" fill="#3e0909"/>
<rect x="136.67" y="196.80" width="3.46" height="7.60" fill="#700d0d"/>
<rect x="139.83" y="196.80" width="1.82" height="7.60" fill="#700d0d"/>
<rect x="141.36" y="196.80" width="2.39" height="7.60" fill="#7e0e0e"/>
<rect x="143.45" y="196.80" width="3.04" height="7.60" fill="#a71814"/>
<rect x="146.19" y="196.80" width="1.89" height="7.60" fill="#410a0a"/>
<rect x="147.78" y="196.80" width="2.53" height="7.60" fill="#410a0a"/>
<rect x="150.01" y="196.80" width="1.67" height="7.60" fill="#c01c18"/>
<rect x="151.38" y="196.80" width="2.87" height="7.60" fill="#3e9040"/>
<rect x="153.95" y="196.80" width="3.05" height="7.60" fill="#48a74a"/>
<rect x="156.70" y="196.80" width="2.69" height="7.60" fill="#439b45"/>
<rect x="159.09" y="196.80" width="3.26" height="7.60" fill="#49ab4c"/>
<rect x="162.06" y="196.80" width="2.20" height="7.60" fill="#409442"/>
<rect x="163.95" y="196.80" width="2.92" height="7.60" fill="#3f9241"/>
<rect x="166.57" y="196.80" width="2.73" height="7.60" fill="#429a44"/>
<rect x="169.00" y="196.80" width="2.70" height="7.60" fill="#3f9341"/>
<rect x="171.40" y="196.80" width="2.47" height="7.60" fill="#409441"/>
<rect x="173.57" y="196.80" width="3.20" height="7.60" fill="#439b45"/>
<rect x="176.47" y="196.80" width="3.39" height="7.60" fill="#49aa4b"/>
<rect x="179.56" y="196.80" width="2.50" height="7.60" fill="#409542"/>
<rect x="181.76" y="196.80" width="2.86" height="7.60" fill="#409442"/>
<rect x="184.32" y="196.80" width="1.72" height="7.60" fill="#3f9241"/>
<rect x="185.74" y="196.80" width="2.93" height="7.60" fill="#47a549"/>
<rect x="188.37" y="196.80" width="2.83" height="7.60" fill="#48a74a"/>
<rect x="190.90" y="196.80" width="3.49" height="7.60" fill="#234c24"/>
<rect x="194.09" y="196.80" width="3.16" height="7.60" fill="#429944"/>
<rect x="196.95" y="196.80" width="2.14" height="7.60" fill="#46a248"/>
<rect x="198.79" y="196.80" width="2.33" height="7.60" fill="#47a449"/>
<rect x="200.82" y="196.80" width="2.87" height="7.60" fill="#49a94b"/>
<rect x="203.39" y="196.80" width="1.64" height="7.60" fill="#48a84a"/>
<rect x="204.74" y="196.80" width="2.48" height="7.60" fill="#45a147"/>
<rect x="206.91" y="196.80" width="1.92" height="7.60" fill="#449d46"/>
<rect x="208.53" y="196.80" width="1.82" height="7.60" fill="#3e9140"/>
<rect x="210.06" y="196.80" width="1.71" height="7.60" fill="#409442"/>
<rect x="211.47" y="196.80" width="3.06" height="7.60" fill="#409442"/>
<rect x="214.23" y="196.80" width="0.97" height="7.60" fill="#48a74a"/>
<rect x="31.50" y="203.90" width="2.22" height="7.50" fill="#820f0f"/>
<rect x="33.42" y="203.90" width="1.89" height="7.50" fill="#810f0f"/>
<rect x="35.00" y="203.90" width="2.84" height="7.50" fill="#790e0e"/>
<rect x="37.54" y="203.90" width="1.74" height="7.50" fill="#b91b17"/>
<rect x="38.98" y="203.90" width="2.62" height="7.50" fill="#780e0e"/>
<rect x="41.29" y="203.90" width="2.29" height="7.50" fill="#b41a16"/>
<rect x="43.29" y="203.90" width="1.71" height="7.50" fill="#7d0e0e"/>
<rect x="44.70" y="203.90" width="2.56" height="7.50" fill="#790e0e"/>
<rect x="46.96" y="203.90" width="1.67" height="7.50" fill="#bf1c17"/>
<rect x="48.33" y="203.90" width="2.42" height="7.50" fill="#a71814"/>
<rect x="50.46" y="203.90" width="1.73" height="7.50" fill="#b01915"/>
<rect x="51.89" y="203.90" width="1.77" height="7.50" fill="#420b0b"/>
<rect x="53.36" y="203.90" width="2.41" height="7.50" fill="#830f0f"/>
<rect x="55.47" y="203.90" width="3.17" height="7.50" fill="#7a0e0e"/>
<rect x="58.34" y="203.90" width="1.84" height="7.50" fill="#830f0f"/>
<rect x="59.88" y="203.90" width="2.02" height="7.50" fill="#700d0d"/>
<rect x="61.60" y="203.90" width="2.79" height="7.50" fill="#7f0f0f"/>
<rect x="64.09" y="203.90" width="3.40" height="7.50" fill="#720d0d"/>
<rect x="67.19" y="203.90" width="2.70" height="7.50" fill="#c31c18"/>
<rect x="69.59" y="203.90" width="2.35" height="7.50" fill="#7e0e0e"/>
<rect x="71.64" y="203.90" width="3.45" height="7.50" fill="#700d0d"/>
<rect x="74.80" y="203.90" width="1.69" height="7.50" fill="#a91815"/>
<rect x="76.19" y="203.90" width="3.23" height="7.50" fill="#c11c18"/>
<rect x="79.12" y="203.90" width="2.15" height="7.50" fill="#420a0a"/>
<rect x="80.97" y="203.90" width="1.87" height="7.50" fill="#121e12"/>
<rect x="82.54" y="203.90" width="1.82" height="7.50" fill="#0e160e"/>
<rect x="84.07" y="203.90" width="2.19" height="7.50" fill="#121f12"/>
<rect x="85.95" y="203.90" width="3.15" height="7.50" fill="#470b0b"/>
<rect x="88.80" y="203.90" width="1.94" height="7.50" fill="#800f0f"/>
<rect x="90.45" y="203.90" width="2.71" height="7.50" fill="#7b0e0e"/>
<rect x="92.85" y="203.90" width="2.81" height="7.50" fill="#770e0e"/>
<rect x="95.37" y="203.90" width="2.31" height="7.50" fill="#b61a16"/>
<rect x="97.37" y="203.90" width="2.64" height="7.50" fill="#c01c18"/>
<rect x="99.71" y="203.90" width="1.72" height="7.50" fill="#c41c18"/>
<rect x="101.13" y="203.90" width="1.71" height="7.50" fill="#b11a16"/>
<rect x="102.55" y="203.90" width="1.99" height="7.50" fill="#ac1915"/>
<rect x="104.24" y="203.90" width="2.89" height="7.50" fill="#720d0d"/>
<rect x="106.83" y="203.90" width="2.41" height="7.50" fill="#790e0e"/>
<rect x="108.94" y="203.90" width="2.20" height="7.50" fill="#840f0f"/>
<rect x="110.84" y="203.90" width="2.71" height="7.50" fill="#750d0d"/>
<rect x="113.25" y="203.90" width="2.46" height="7.50" fill="#830f0f"/>
<rect x="115.41" y="203.90" width="2.17" height="7.50" fill="#4c0b0b"/>
<rect x="117.28" y="203.90" width="3.11" height="7.50" fill="#7d0e0e"/>
<rect x="120.09" y="203.90" width="2.93" height="7.50" fill="#470b0b"/>
<rect x="122.72" y="203.90" width="2.06" height="7.50" fill="#580c0c"/>
<rect x="124.48" y="203.90" width="2.69" height="7.50" fill="#770e0e"/>
<rect x="126.88" y="203.90" width="2.60" height="7.50" fill="#420a0a"/>
<rect x="129.17" y="203.90" width="3.26" height="7.50" fill="#430a0a"/>
<rect x="132.14" y="203.90" width="2.99" height="7.50" fill="#810f0f"/>
<rect x="134.82" y="203.90" width="2.15" height="7.50" fill="#840f0f"/>
<rect x="136.67" y="203.90" width="3.46" height="7.50" fill="#790e0e"/>
<rect x="139.83" y="203.90" width="1.82" height="7.50" fill="#820f0f"/>
<rect x="141.36" y="203.90" width="2.39" height="7.50" fill="#460b0b"/>
<rect x="143.45" y="203.90" width="3.04" height="7.50" fill="#7d0e0e"/>
<rect x="146.19" y="203.90" width="1.89" height="7.50" fill="#430a0a"/>
<rect x="147.78" y="203.90" width="2.53" height="7.50" fill="#840f0f"/>
<rect x="150.01" y="203.90" width="1.67" height="7.50" fill="#510c0c"/>
<rect x="151.38" y="203.90" width="2.87" height="7.50" fill="#3e9040"/>
<rect x="153.95" y="203.90" width="3.05" height="7.50" fill="#409442"/>
<rect x="156.70" y="203.90" width="2.69" height="7.50" fill="#3f9341"/>
<rect x="159.09" y="203.90" width="3.26" height="7.50" fill="#46a248"/>
<rect x="162.06" y="203.90" width="2.20" height="7.50" fill="#439c45"/>
<rect x="163.95" y="203.90" width="2.92" height="7.50" fill="#46a248"/>
<rect x="166.57" y="203.90" width="2.73" height="7.50" fill="#439c45"/>
<rect x="169.00" y="203.90" width="2.70" height="7.50" fill="#449e46"/>
<rect x="171.40" y="203.90" width="2.47" height="7.50" fill="#46a248"/>
<rect x="173.57" y="203.90" width="3.20" height="7.50" fill="#47a449"/>
<rect x="176.47" y="203.90" width="3.39" height="7.50" fill="#449f46"/>
<rect x="179.56" y="203.90" width="2.50" height="7.50" fill="#439c45"/>
<rect x="181.76" y="203.90" width="2.86" height="7.50" fill="#3f9241"/>
<rect x="184.32" y="203.90" width="1.72" height="7.50" fill="#409542"/>
<rect x="185.74" y="203.90" width="2.93" height="7.50" fill="#215c26"/>
<rect x="188.37" y="203.90" width="2.83" height="7.50" fill="#3f9341"/>
<rect x="190.90" y="203.90" width="3.49" height="7.50" fill="#49aa4b"/>
<rect x="194.09" y="203.90" width="3.16" height="7.50" fill="#419743"/>
<rect x="196.95" y="203.90" width="2.14" height="7.50" fill="#46a248"/>
<rect x="198.79" y="203.90" width="2.33" height="7.50" fill="#46a348"/>
<rect x="200.82" y="203.90" width="2.87" height="7.50" fill="#4aab4c"/>
<rect x="203.39" y="203.90" width="1.64" height="7.50" fill="#49aa4b"/>
<rect x="204.74" y="203.90" width="2.48" height="7.50" fill="#3f9241"/>
<rect x="206.91" y="203.90" width="1.92" height="7.50" fill="#409542"/>
<rect x="208.53" y="203.90" width="1.82" height="7.50" fill="#48a84a"/>
<rect x="210.06" y="203.90" width="1.71" height="7.50" fill="#409442"/>
<rect x="211.47" y="203.90" width="3.06" height="7.50" fill="#409542"/>
<rect x="214.23" y="203.90" width="0.97" height="7.50" fill="#45a147"/>
<rect x="31.50" y="210.90" width="2.22" height="7.00" fill="#830f0f"/>
<rect x="33.42" y="210.90" width="1.89" height="7.00" fill="#790e0e"/>
<rect x="35.00" y="210.90" width="2.84" height="7.00" fill="#330a0a"/>
<rect x="37.54" y="210.90" width="1.74" height="7.00" fill="#b61a16"/>
<rect x="38.98" y="210.90" width="2.62" height="7.00" fill="#b01916"/>
<rect x="41.29" y="210.90" width="2.29" height="7.00" fill="#830f0f"/>
<rect x="43.29" y="210.90" width="1.71" height="7.00" fill="#a71814"/>
<rect x="44.70" y="210.90" width="2.56" height="7.00" fill="#af1915"/>
<rect x="46.96" y="210.90" width="1.67" height="7.00" fill="#a51814"/>
<rect x="48.33" y="210.90" width="2.42" height="7.00" fill="#7d0e0e"/>
<rect x="50.46" y="210.90" width="1.73" height="7.00" fill="#700d0d"/>
<rect x="51.89" y="210.90" width="1.77" height="7.00" fill="#3e0909"/>
<rect x="53.36" y="210.90" width="2.41" height="7.00" fill="#132013"/>
<rect x="55.47" y="210.90" width="3.17" height="7.00" fill="#3d0909"/>
<rect x="58.34" y="210.90" width="1.84" height="7.00" fill="#101b10"/>
<rect x="59.88" y="210.90" width="2.02" height="7.00" fill="#132013"/>
<rect x="61.60" y="210.90" width="2.79" height="7.00" fill="#420a0a"/>
<rect x="64.09" y="210.90" width="3.40" height="7.00" fill="#800f0f"/>
<rect x="67.19" y="210.90" width="2.70" height="7.00" fill="#750d0d"/>
<rect x="69.59" y="210.90" width="2.35" height="7.00" fill="#750d0d"/>
<rect x="71.64" y="210.90" width="3.45" height="7.00" fill="#420b0b"/>
<rect x="74.80" y="210.90" width="1.69" height="7.00" fill="#830f0f"/>
<rect x="76.19" y="210.90" width="3.23" height="7.00" fill="#7c0e0e"/>
<rect x="79.12" y="210.90" width="2.15" height="7.00" fill="#cc281d"/>
<rect x="80.97" y="210.90" width="1.87" height="7.00" fill="#7d1c15"/>
<rect x="82.54" y="210.90" width="1.82" height="7.00" fill="#c5271c"/>
<rect x="84.07" y="210.90" width="2.19" height="7.00" fill="#c3271c"/>
<rect x="85.95" y="210.90" width="3.15" height="7.00" fill="#dc2c1f"/>
<rect x="88.80" y="210.90" width="1.94" height="7.00" fill="#b61a16"/>
<rect x="90.45" y="210.90" width="2.71" height="7.00" fill="#b21a16"/>
<rect x="92.85" y="210.90" width="2.81" height="7.00" fill="#ad1915"/>
<rect x="95.37" y="210.90" width="2.31" height="7.00" fill="#6f0d0d"/>
<rect x="97.37" y="210.90" width="2.64" height="7.00" fill="#ba1b17"/>
<rect x="99.71" y="210.90" width="1.72" height="7.00" fill="#b71a16"/>
<rect x="101.13" y="210.90" width="1.71" height="7.00" fill="#7c0e0e"/>
<rect x="102.55" y="210.90" width="1.99" height="7.00" fill="#470b0b"/>
<rect x="104.24" y="210.90" width="2.89" height="7.00" fill="#3d0909"/>
<rect x="106.83" y="210.90" width="2.41" height="7.00" fill="#7a0e0e"/>
<rect x="108.94" y="210.90" width="2.20" height="7.00" fill="#7d0e0e"/>
<rect x="110.84" y="210.90" width="2.71" height="7.00" fill="#c21c18"/>
<rect x="113.25" y="210.90" width="2.46" height="7.00" fill="#780e0e"/>
<rect x="115.41" y="210.90" width="2.17" height="7.00" fill="#740d0d"/>
<rect x="117.28" y="210.90" width="3.11" height="7.00" fill="#410a0a"/>
<rect x="120.09" y="210.90" width="2.93" height="7.00" fill="#470b0b"/>
<rect x="122.72" y="210.90" width="2.06" height="7.00" fill="#770e0e"/>
<rect x="124.48" y="210.90" width="2.69" height="7.00" fill="#460b0b"/>
<rect x="126.88" y="210.90" width="2.60" height="7.00" fill="#730d0d"/>
<rect x="129.17" y="210.90" width="3.26" height="7.00" fill="#7c0e0e"/>
<rect x="132.14" y="210.90" width="2.99" height="7.00" fill="#b91b17"/>
<rect x="134.82" y="210.90" width="2.15" height="7.00" fill="#3f0a0a"/>
<rect x="136.67" y="210.90" width="3.46" height="7.00" fill="#450a0a"/>
<rect x="139.83" y="210.90" width="1.82" height="7.00" fill="#7c0e0e"/>
<rect x="141.36" y="210.90" width="2.39" height="7.00" fill="#400a0a"/>
<rect x="143.45" y="210.90" width="3.04" height="7.00" fill="#730d0d"/>
<rect x="146.19" y="210.90" width="1.89" height="7.00" fill="#410a0a"/>
<rect x="147.78" y="210.90" width="2.53" height="7.00" fill="#7f0f0f"/>
<rect x="150.01" y="210.90" width="1.67" height="7.00" fill="#3d0909"/>
<rect x="151.38" y="210.90" width="2.87" height="7.00" fill="#409642"/>
<rect x="153.95" y="210.90" width="3.05" height="7.00" fill="#1f5824"/>
<rect x="156.70" y="210.90" width="2.69" height="7.00" fill="#46a448"/>
<rect x="159.09" y="210.90" width="3.26" height="7.00" fill="#173d1b"/>
<rect x="162.06" y="210.90" width="2.20" height="7.00" fill="#215e27"/>
<rect x="163.95" y="210.90" width="2.92" height="7.00" fill="#46a449"/>
<rect x="166.57" y="210.90" width="2.73" height="7.00" fill="#225f27"/>
<rect x="169.00" y="210.90" width="2.70" height="7.00" fill="#47a449"/>
<rect x="171.40" y="210.90" width="2.47" height="7.00" fill="#47a649"/>
<rect x="173.57" y="210.90" width="3.20" height="7.00" fill="#48a84a"/>
<rect x="176.47" y="210.90" width="3.39" height="7.00" fill="#46a248"/>
<rect x="179.56" y="210.90" width="2.50" height="7.00" fill="#429944"/>
<rect x="181.76" y="210.90" width="2.86" height="7.00" fill="#3f9341"/>
<rect x="184.32" y="210.90" width="1.72" height="7.00" fill="#47a64a"/>
<rect x="185.74" y="210.90" width="2.93" height="7.00" fill="#46a248"/>
<rect x="188.37" y="210.90" width="2.83" height="7.00" fill="#439c45"/>
<rect x="190.90" y="210.90" width="3.49" height="7.00" fill="#45a148"/>
<rect x="194.09" y="210.90" width="3.16" height="7.00" fill="#46a348"/>
<rect x="196.95" y="210.90" width="2.14" height="7.00" fill="#409542"/>
<rect x="198.79" y="210.90" width="2.33" height="7.00" fill="#47a64a"/>
<rect x="200.82" y="210.90" width="2.87" height="7.00" fill="#449e46"/>
<rect x="203.39" y="210.90" width="1.64" height="7.00" fill="#3e9140"/>
<rect x="204.74" y="210.90" width="2.48" height="7.00" fill="#409442"/>
<rect x="206.91" y="210.90" width="1.92" height="7.00" fill="#49ab4c"/>
<rect x="208.53" y="210.90" width="1.82" height="7.00" fill="#3f9341"/>
<rect x="210.06" y="210.90" width="1.71" height="7.00" fill="#459f47"/>
<rect x="211.47" y="210.90" width="3.06" height="7.00" fill="#449e46"/>
<rect x="214.23" y="210.90" width="0.97" height="7.00" fill="#48a74a"/>
<rect x="268.60" y="134.00" width="2.37" height="14.40" fill="#19678b"/>
<rect x="270.67" y="134.00" width="2.55" height="14.40" fill="#1a6a91"/>
<rect x="272.92" y="134.00" width="3.17" height="14.40" fill="#165d7f"/>
<rect x="275.79" y="134.00" width="2.39" height="14.40" fill="#175e80"/>
<rect x="277.88" y="134.00" width="2.46" height="14.40" fill="#0f3b52"/>
<rect x="280.05" y="134.00" width="2.60" height="14.40" fill="#165c7d"/>
<rect x="282.35" y="134.00" width="1.91" height="14.40" fill="#0e374c"/>
<rect x="283.96" y="134.00" width="2.47" height="14.40" fill="#0f394f"/>
<rect x="286.13" y="134.00" width="2.67" height="14.40" fill="#0e384d"/>
<rect x="288.50" y="134.00" width="2.95" height="14.40" fill="#1a6e95"/>
<rect x="291.15" y="134.00" width="1.76" height="14.40" fill="#0f3a50"/>
<rect x="292.61" y="134.00" width="2.12" height="14.40" fill="#0f3b52"/>
<rect x="294.42" y="134.00" width="1.75" height="14.40" fill="#0e374b"/>
<rect x="295.88" y="134.00" width="2.98" height="14.40" fill="#103d54"/>
<rect x="298.55" y="134.00" width="2.78" height="14.40" fill="#0f394f"/>
<rect x="301.03" y="134.00" width="1.67" height="14.40" fill="#091822"/>
<rect x="302.40" y="134.00" width="3.27" height="14.40" fill="#0b1c27"/>
<rect x="305.37" y="134.00" width="3.24" height="14.40" fill="#0b1c27"/>
<rect x="308.31" y="134.00" width="2.71" height="14.40" fill="#0a1b26"/>
<rect x="310.73" y="134.00" width="2.65" height="14.40" fill="#0a1a25"/>
<rect x="313.07" y="134.00" width="1.87" height="14.40" fill="#103f57"/>
<rect x="314.64" y="134.00" width="1.63" height="14.40" fill="#091821"/>
<rect x="315.97" y="134.00" width="2.50" height="14.40" fill="#0e3549"/>
<rect x="318.16" y="134.00" width="1.70" height="14.40" fill="#0b1d28"/>
<rect x="319.57" y="134.00" width="1.92" height="14.40" fill="#090f13"/>
<rect x="321.19" y="134.00" width="2.01" height="14.40" fill="#0a1b25"/>
<rect x="322.90" y="134.00" width="1.65" height="14.40" fill="#0f384e"/>
<rect x="324.25" y="134.00" width="2.39" height="14.40" fill="#0b1c27"/>
<rect x="326.34" y="134.00" width="2.35" height="14.40" fill="#0b1c27"/>
<rect x="328.39" y="134.00" width="3.03" height="14.40" fill="#0a1b25"/>
<rect x="331.12" y="134.00" width="2.48" height="14.40" fill="#19668b"/>
<rect x="333.30" y="134.00" width="2.69" height="14.40" fill="#1a6e95"/>
<rect x="335.69" y="134.00" width="2.45" height="14.40" fill="#0f394e"/>
<rect x="337.84" y="134.00" width="2.73" height="14.40" fill="#186386"/>
<rect x="340.27" y="134.00" width="2.38" height="14.40" fill="#186489"/>
<rect x="342.35" y="134.00" width="2.07" height="14.40" fill="#0f3b52"/>
<rect x="344.12" y="134.00" width="3.30" height="14.40" fill="#103f57"/>
<rect x="347.11" y="134.00" width="3.29" height="14.40" fill="#113d52"/>
<rect x="350.11" y="134.00" width="3.03" height="14.40" fill="#0f3a50"/>
<rect x="352.84" y="134.00" width="2.80" height="14.40" fill="#0f3c53"/>
<rect x="355.34" y="134.00" width="2.14" height="14.40" fill="#0e384d"/>
<rect x="357.17" y="134.00" width="1.99" height="14.40" fill="#0f3c52"/>
<rect x="358.86" y="134.00" width="2.09" height="14.40" fill="#103e56"/>
<rect x="360.66" y="134.00" width="1.72" height="14.40" fill="#0e374b"/>
<rect x="362.08" y="134.00" width="2.90" height="14.40" fill="#103e55"/>
<rect x="364.68" y="134.00" width="2.28" height="14.40" fill="#1a6d94"/>
<rect x="366.66" y="134.00" width="3.04" height="14.40" fill="#0e364a"/>
<rect x="369.40" y="134.00" width="2.26" height="14.40" fill="#103e55"/>
<rect x="371.36" y="134.00" width="3.23" height="14.40" fill="#19678d"/>
<rect x="374.28" y="134.00" width="3.04" height="14.40" fill="#176083"/>
<rect x="377.02" y="134.00" width="1.60" height="14.40" fill="#0c222e"/>
<rect x="378.33" y="134.00" width="1.96" height="14.40" fill="#736f17"/>
<rect x="379.98" y="134.00" width="3.15" height="14.40" fill="#7b7619"/>
<rect x="382.83" y="134.00" width="2.40" height="14.40" fill="#1f1f0b"/>
<rect x="384.93" y="134.00" width="3.27" height="14.40" fill="#24240d"/>
<rect x="387.89" y="134.00" width="2.28" height="14.40" fill="#777218"/>
<rect x="389.87" y="134.00" width="1.72" height="14.40" fill="#837e1a"/>
<rect x="391.29" y="134.00" width="2.67" height="14.40" fill="#24240d"/>
<rect x="393.66" y="134.00" width="2.92" height="14.40" fill="#7e7919"/>
<rect x="396.29" y="134.00" width="2.06" height="14.40" fill="#706c16"/>
<rect x="398.05" y="134.00" width="1.75" height="14.40" fill="#797418"/>
<rect x="399.49" y="134.00" width="2.17" height="14.40" fill="#21210c"/>
<rect x="401.36" y="134.00" width="3.24" height="14.40" fill="#1f1f0b"/>
<rect x="404.30" y="134.00" width="2.89" height="14.40" fill="#9f9a1e"/>
<rect x="406.89" y="134.00" width="1.80" height="14.40" fill="#757017"/>
<rect x="408.39" y="134.00" width="2.02" height="14.40" fill="#777218"/>
<rect x="410.11" y="134.00" width="1.77" height="14.40" fill="#6e6a16"/>
<rect x="411.58" y="134.00" width="1.70" height="14.40" fill="#bbb423"/>
<rect x="412.98" y="134.00" width="2.95" height="14.40" fill="#827c1a"/>
<rect x="415.64" y="134.00" width="1.90" height="14.40" fill="#ada720"/>
<rect x="417.24" y="134.00" width="2.55" height="14.40" fill="#a49e1e"/>
<rect x="419.49" y="134.00" width="2.36" height="14.40" fill="#747017"/>
<rect x="421.55" y="134.00" width="1.92" height="14.40" fill="#a7a11f"/>
<rect x="423.17" y="134.00" width="2.84" height="14.40" fill="#535013"/>
<rect x="425.72" y="134.00" width="1.82" height="14.40" fill="#444110"/>
<rect x="427.24" y="134.00" width="2.69" height="14.40" fill="#b6b022"/>
<rect x="429.63" y="134.00" width="1.80" height="14.40" fill="#847e1a"/>
<rect x="431.13" y="134.00" width="2.32" height="14.40" fill="#b8b122"/>
<rect x="433.15" y="134.00" width="1.96" height="14.40" fill="#afa921"/>
<rect x="434.81" y="134.00" width="2.06" height="14.40" fill="#777218"/>
<rect x="436.57" y="134.00" width="3.25" height="14.40" fill="#aea820"/>
<rect x="439.52" y="134.00" width="2.97" height="14.40" fill="#c4bf28"/>
<rect x="442.18" y="134.00" width="2.12" height="14.40" fill="#a5a01f"/>
<rect x="444.00" y="134.00" width="3.10" height="14.40" fill="#cfc92b"/>
<rect x="446.81" y="134.00" width="1.96" height="14.40" fill="#aca620"/>
<rect x="448.46" y="134.00" width="2.27" height="14.40" fill="#4e4c12"/>
<rect x="450.43" y="134.00" width="3.05" height="14.40" fill="#aca620"/>
<rect x="453.19" y="134.00" width="2.69" height="14.40" fill="#bbb423"/>
<rect x="455.58" y="134.00" width="1.77" height="14.40" fill="#c3bd28"/>
<rect x="457.05" y="134.00" width="3.28" height="14.40" fill="#a6a11f"/>
<rect x="460.03" y="134.00" width="1.96" height="14.40" fill="#cdc72a"/>
<rect x="461.69" y="134.00" width="2.04" height="14.40" fill="#18180a"/>
<rect x="463.43" y="134.00" width="2.91" height="14.40" fill="#9c971d"/>
<rect x="466.05" y="134.00" width="2.16" height="14.40" fill="#b2ac21"/>
<rect x="467.90" y="134.00" width="2.10" height="14.40" fill="#c2bc28"/>
<rect x="469.71" y="134.00" width="1.72" height="14.40" fill="#d5cf2c"/>
<rect x="471.13" y="134.00" width="1.75" height="14.40" fill="#d5cf2c"/>
<rect x="472.59" y="134.00" width="2.59" height="14.40" fill="#b9b326"/>
<rect x="474.88" y="134.00" width="2.01" height="14.40" fill="#ada720"/>
<rect x="476.59" y="134.00" width="2.62" height="14.40" fill="#ada720"/>
<rect x="478.91" y="134.00" width="2.23" height="14.40" fill="#a39d1e"/>
<rect x="480.84" y="134.00" width="2.37" height="14.40" fill="#dcd62d"/>
<rect x="482.92" y="134.00" width="3.23" height="14.40" fill="#dcd52d"/>
<rect x="485.85" y="134.00" width="2.42" height="14.40" fill="#b9b322"/>
<rect x="487.97" y="134.00" width="2.58" height="14.40" fill="#9f9a1e"/>
<rect x="490.24" y="134.00" width="1.76" height="14.40" fill="#bcb627"/>
<rect x="268.60" y="147.90" width="2.37" height="14.40" fill="#186589"/>
<rect x="270.67" y="147.90" width="2.55" height="14.40" fill="#186285"/>
<rect x="272.92" y="147.90" width="3.17" height="14.40" fill="#165c7d"/>
<rect x="275.79" y="147.90" width="2.39" height="14.40" fill="#1a6c93"/>
<rect x="277.88" y="147.90" width="2.46" height="14.40" fill="#19688e"/>
<rect x="280.05" y="147.90" width="2.60" height="14.40" fill="#186488"/>
<rect x="282.35" y="147.90" width="1.91" height="14.40" fill="#196a90"/>
<rect x="283.96" y="147.90" width="2.47" height="14.40" fill="#165b7b"/>
<rect x="286.13" y="147.90" width="2.67" height="14.40" fill="#279ed4"/>
<rect x="288.50" y="147.90" width="2.95" height="14.40" fill="#165e7f"/>
<rect x="291.15" y="147.90" width="1.76" height="14.40" fill="#28a0d7"/>
<rect x="292.61" y="147.90" width="2.12" height="14.40" fill="#2594c7"/>
<rect x="294.42" y="147.90" width="1.75" height="14.40" fill="#165c7d"/>
<rect x="295.88" y="147.90" width="2.98" height="14.40" fill="#186387"/>
<rect x="298.55" y="147.90" width="2.78" height="14.40" fill="#175e80"/>
<rect x="301.03" y="147.90" width="1.67" height="14.40" fill="#09141b"/>
<rect x="302.40" y="147.90" width="3.27" height="14.40" fill="#0a1a23"/>
<rect x="305.37" y="147.90" width="3.24" height="14.40" fill="#0a1923"/>
<rect x="308.31" y="147.90" width="2.71" height="14.40" fill="#0a1b25"/>
<rect x="310.73" y="147.90" width="2.65" height="14.40" fill="#0e384d"/>
<rect x="313.07" y="147.90" width="1.87" height="14.40" fill="#0a1a25"/>
<rect x="314.64" y="147.90" width="1.63" height="14.40" fill="#0b1c26"/>
<rect x="315.97" y="147.90" width="2.50" height="14.40" fill="#103d54"/>
<rect x="318.16" y="147.90" width="1.70" height="14.40" fill="#091821"/>
<rect x="319.57" y="147.90" width="1.92" height="14.40" fill="#0b1b26"/>
<rect x="321.19" y="147.90" width="2.01" height="14.40" fill="#091822"/>
<rect x="322.90" y="147.90" width="1.65" height="14.40" fill="#0a1923"/>
<rect x="324.25" y="147.90" width="2.39" height="14.40" fill="#0b1c27"/>
<rect x="326.34" y="147.90" width="2.35" height="14.40" fill="#0a141b"/>
<rect x="328.39" y="147.90" width="3.03" height="14.40" fill="#0b1c27"/>
<rect x="331.12" y="147.90" width="2.48" height="14.40" fill="#19678c"/>
<rect x="333.30" y="147.90" width="2.69" height="14.40" fill="#165c7c"/>
<rect x="335.69" y="147.90" width="2.45" height="14.40" fill="#2596ca"/>
<rect x="337.84" y="147.90" width="2.73" height="14.40" fill="#185673"/>
<rect x="340.27" y="147.90" width="2.38" height="14.40" fill="#175f81"/>
<rect x="342.35" y="147.90" width="2.07" height="14.40" fill="#165b7c"/>
<rect x="344.12" y="147.90" width="3.30" height="14.40" fill="#2084b1"/>
<rect x="347.11" y="147.90" width="3.29" height="14.40" fill="#279ed4"/>
<rect x="350.11" y="147.90" width="3.03" height="14.40" fill="#186286"/>
<rect x="352.84" y="147.90" width="2.80" height="14.40" fill="#19678c"/>
<rect x="355.34" y="147.90" width="2.14" height="14.40" fill="#186589"/>
<rect x="357.17" y="147.90" width="1.99" height="14.40" fill="#176285"/>
<rect x="358.86" y="147.90" width="2.09" height="14.40" fill="#2491c3"/>
<rect x="360.66" y="147.90" width="1.72" height="14.40" fill="#2493c6"/>
<rect x="362.08" y="147.90" width="2.90" height="14.40" fill="#279fd5"/>
<rect x="364.68" y="147.90" width="2.28" height="14.40" fill="#186285"/>
<rect x="366.66" y="147.90" width="3.04" height="14.40" fill="#176082"/>
<rect x="369.40" y="147.90" width="2.26" height="14.40" fill="#1a6d94"/>
<rect x="371.36" y="147.90" width="3.23" height="14.40" fill="#0c212c"/>
<rect x="374.28" y="147.90" width="3.04" height="14.40" fill="#0f3b51"/>
<rect x="377.02" y="147.90" width="1.60" height="14.40" fill="#0f394f"/>
<rect x="378.33" y="147.90" width="1.96" height="14.40" fill="#9d971d"/>
<rect x="379.98" y="147.90" width="3.15" height="14.40" fill="#a8a31f"/>
<rect x="382.83" y="147.90" width="2.40" height="14.40" fill="#b4ad21"/>
<rect x="384.93" y="147.90" width="3.27" height="14.40" fill="#767118"/>
<rect x="387.89" y="147.90" width="2.28" height="14.40" fill="#6d6916"/>
<rect x="389.87" y="147.90" width="1.72" height="14.40" fill="#20200b"/>
<rect x="391.29" y="147.90" width="2.67" height="14.40" fill="#7a7518"/>
<rect x="393.66" y="147.90" width="2.92" height="14.40" fill="#22220c"/>
<rect x="396.29" y="147.90" width="2.06" height="14.40" fill="#757017"/>
<rect x="398.05" y="147.90" width="1.75" height="14.40" fill="#22220c"/>
<rect x="399.49" y="147.90" width="2.17" height="14.40" fill="#d0ca2b"/>
<rect x="401.36" y="147.90" width="3.24" height="14.40" fill="#767118"/>
<rect x="404.30" y="147.90" width="2.89" height="14.40" fill="#807a1a"/>
<rect x="406.89" y="147.90" width="1.80" height="14.40" fill="#d6cf2c"/>
<rect x="408.39" y="147.90" width="2.02" height="14.40" fill="#aca620"/>
<rect x="410.11" y="147.90" width="1.77" height="14.40" fill="#7b7619"/>
<rect x="411.58" y="147.90" width="1.70" height="14.40" fill="#d0ca2b"/>
<rect x="412.98" y="147.90" width="2.95" height="14.40" fill="#7a7518"/>
<rect x="415.64" y="147.90" width="1.90" height="14.40" fill="#a19c1e"/>
<rect x="417.24" y="147.90" width="2.55" height="14.40" fill="#827d1a"/>
<rect x="419.49" y="147.90" width="2.36" height="14.40" fill="#716d17"/>
<rect x="421.55" y="147.90" width="1.92" height="14.40" fill="#b0aa21"/>
<rect x="423.17" y="147.90" width="2.84" height="14.40" fill="#736e17"/>
<rect x="425.72" y="147.90" width="1.82" height="14.40" fill="#706b16"/>
<rect x="427.24" y="147.90" width="2.69" height="14.40" fill="#cbc52a"/>
<rect x="429.63" y="147.90" width="1.80" height="14.40" fill="#c6c029"/>
<rect x="431.13" y="147.90" width="2.32" height="14.40" fill="#b6b022"/>
<rect x="433.15" y="147.90" width="1.96" height="14.40" fill="#807b1a"/>
<rect x="434.81" y="147.90" width="2.06" height="14.40" fill="#cac42a"/>
<rect x="436.57" y="147.90" width="3.25" height="14.40" fill="#c8c229"/>
<rect x="439.52" y="147.90" width="2.97" height="14.40" fill="#beb827"/>
<rect x="442.18" y="147.90" width="2.12" height="14.40" fill="#d0ca2b"/>
<rect x="444.00" y="147.90" width="3.10" height="14.40" fill="#767118"/>
<rect x="446.81" y="147.90" width="1.96" height="14.40" fill="#777218"/>
<rect x="448.46" y="147.90" width="2.27" height="14.40" fill="#767118"/>
<rect x="450.43" y="147.90" width="3.05" height="14.40" fill="#a59f1f"/>
<rect x="453.19" y="147.90" width="2.69" height="14.40" fill="#736f17"/>
<rect x="455.58" y="147.90" width="1.77" height="14.40" fill="#7d7719"/>
<rect x="457.05" y="147.90" width="3.28" height="14.40" fill="#a59f1f"/>
<rect x="460.03" y="147.90" width="1.96" height="14.40" fill="#c6c029"/>
<rect x="461.69" y="147.90" width="2.04" height="14.40" fill="#c7c129"/>
<rect x="463.43" y="147.90" width="2.91" height="14.40" fill="#d5ce2c"/>
<rect x="466.05" y="147.90" width="2.16" height="14.40" fill="#ddd72e"/>
<rect x="467.90" y="147.90" width="2.10" height="14.40" fill="#ddd62d"/>
<rect x="469.71" y="147.90" width="1.72" height="14.40" fill="#d8d22d"/>
<rect x="471.13" y="147.90" width="1.75" height="14.40" fill="#c5bf28"/>
<rect x="472.59" y="147.90" width="2.59" height="14.40" fill="#ded72e"/>
<rect x="474.88" y="147.90" width="2.01" height="14.40" fill="#c2bc28"/>
<rect x="476.59" y="147.90" width="2.62" height="14.40" fill="#c7c129"/>
<rect x="478.91" y="147.90" width="2.23" height="14.40" fill="#c8c229"/>
<rect x="480.84" y="147.90" width="2.37" height="14.40" fill="#c0ba27"/>
<rect x="482.92" y="147.90" width="3.23" height="14.40" fill="#d8d22c"/>
<rect x="485.85" y="147.90" width="2.42" height="14.40" fill="#dad32d"/>
<rect x="487.97" y="147.90" width="2.58" height="14.40" fill="#bfb927"/>
<rect x="490.24" y="147.90" width="1.76" height="14.40" fill="#dcd52d"/>
<rect x="268.60" y="161.80" width="2.37" height="14.30" fill="#0e3448"/>
<rect x="270.67" y="161.80" width="2.55" height="14.30" fill="#0f3b51"/>
<rect x="272.92" y="161.80" width="3.17" height="14.30" fill="#103f57"/>
<rect x="275.79" y="161.80" width="2.39" height="14.30" fill="#103e55"/>
<rect x="277.88" y="161.80" width="2.46" height="14.30" fill="#0f3b51"/>
<rect x="280.05" y="161.80" width="2.60" height="14.30" fill="#0e3549"/>
<rect x="282.35" y="161.80" width="1.91" height="14.30" fill="#0a1b26"/>
<rect x="283.96" y="161.80" width="2.47" height="14.30" fill="#091821"/>
<rect x="286.13" y="161.80" width="2.67" height="14.30" fill="#091821"/>
<rect x="288.50" y="161.80" width="2.95" height="14.30" fill="#0a1b25"/>
<rect x="291.15" y="161.80" width="1.76" height="14.30" fill="#091922"/>
<rect x="292.61" y="161.80" width="2.12" height="14.30" fill="#269ace"/>
<rect x="294.42" y="161.80" width="1.75" height="14.30" fill="#269bd0"/>
<rect x="295.88" y="161.80" width="2.98" height="14.30" fill="#186488"/>
<rect x="298.55" y="161.80" width="2.78" height="14.30" fill="#19688e"/>
<rect x="301.03" y="161.80" width="1.67" height="14.30" fill="#269ace"/>
<rect x="302.40" y="161.80" width="3.27" height="14.30" fill="#185673"/>
<rect x="305.37" y="161.80" width="3.24" height="14.30" fill="#2186b4"/>
<rect x="308.31" y="161.80" width="2.71" height="14.30" fill="#195a78"/>
<rect x="310.73" y="161.80" width="2.65" height="14.30" fill="#2084b1"/>
<rect x="313.07" y="161.80" width="1.87" height="14.30" fill="#279ed5"/>
<rect x="314.64" y="161.80" width="1.63" height="14.30" fill="#228bba"/>
<rect x="315.97" y="161.80" width="2.50" height="14.30" fill="#2596c9"/>
<rect x="318.16" y="161.80" width="1.70" height="14.30" fill="#238dbd"/>
<rect x="319.57" y="161.80" width="1.92" height="14.30" fill="#2493c5"/>
<rect x="321.19" y="161.80" width="2.01" height="14.30" fill="#279dd3"/>
<rect x="322.90" y="161.80" width="1.65" height="14.30" fill="#2699cd"/>
<rect x="324.25" y="161.80" width="2.39" height="14.30" fill="#2288b6"/>
<rect x="326.34" y="161.80" width="2.35" height="14.30" fill="#279ed4"/>
<rect x="328.39" y="161.80" width="3.03" height="14.30" fill="#2184b1"/>
<rect x="331.12" y="161.80" width="2.48" height="14.30" fill="#196a90"/>
<rect x="333.30" y="161.80" width="2.69" height="14.30" fill="#175e80"/>
<rect x="335.69" y="161.80" width="2.45" height="14.30" fill="#18668a"/>
<rect x="337.84" y="161.80" width="2.73" height="14.30" fill="#186387"/>
<rect x="340.27" y="161.80" width="2.38" height="14.30" fill="#0e364b"/>
<rect x="342.35" y="161.80" width="2.07" height="14.30" fill="#0b1c27"/>
<rect x="344.12" y="161.80" width="3.30" height="14.30" fill="#103e56"/>
<rect x="347.11" y="161.80" width="3.29" height="14.30" fill="#103f57"/>
<rect x="350.11" y="161.80" width="3.03" height="14.30" fill="#0a1a24"/>
<rect x="352.84" y="161.80" width="2.80" height="14.30" fill="#091922"/>
<rect x="355.34" y="161.80" width="2.14" height="14.30" fill="#27a0d7"/>
<rect x="357.17" y="161.80" width="1.99" height="14.30" fill="#15465c"/>
<rect x="358.86" y="161.80" width="2.09" height="14.30" fill="#1a6b92"/>
<rect x="360.66" y="161.80" width="1.72" height="14.30" fill="#269bd0"/>
<rect x="362.08" y="161.80" width="2.90" height="14.30" fill="#186286"/>
<rect x="364.68" y="161.80" width="2.28" height="14.30" fill="#175f81"/>
<rect x="366.66" y="161.80" width="3.04" height="14.30" fill="#19678c"/>
<rect x="369.40" y="161.80" width="2.26" height="14.30" fill="#17516c"/>
<rect x="371.36" y="161.80" width="3.23" height="14.30" fill="#091822"/>
<rect x="374.28" y="161.80" width="3.04" height="14.30" fill="#0b1c27"/>
<rect x="377.02" y="161.80" width="1.60" height="14.30" fill="#091821"/>
<rect x="378.33" y="161.80" width="1.96" height="14.30" fill="#dcd52d"/>
<rect x="379.98" y="161.80" width="3.15" height="14.30" fill="#dfd82e"/>
<rect x="382.83" y="161.80" width="2.40" height="14.30" fill="#9b961d"/>
<rect x="384.93" y="161.80" width="3.27" height="14.30" fill="#ddd72e"/>
<rect x="387.89" y="161.80" width="2.28" height="14.30" fill="#a29c1e"/>
<rect x="389.87" y="161.80" width="1.72" height="14.30" fill="#a09b1e"/>
<rect x="391.29" y="161.80" width="2.67" height="14.30" fill="#a6a01f"/>
<rect x="393.66" y="161.80" width="2.92" height="14.30" fill="#bdb723"/>
<rect x="396.29" y="161.80" width="2.06" height="14.30" fill="#c6c029"/>
<rect x="398.05" y="161.80" width="1.75" height="14.30" fill="#d3cd2b"/>
<rect x="399.49" y="161.80" width="2.17" height="14.30" fill="#7f7b1d"/>
<rect x="401.36" y="161.80" width="3.24" height="14.30" fill="#a39d1e"/>
<rect x="404.30" y="161.80" width="2.89" height="14.30" fill="#b5af22"/>
<rect x="406.89" y="161.80" width="1.80" height="14.30" fill="#dcd62d"/>
<rect x="408.39" y="161.80" width="2.02" height="14.30" fill="#bbb523"/>
<rect x="410.11" y="161.80" width="1.77" height="14.30" fill="#b5ae22"/>
<rect x="411.58" y="161.80" width="1.70" height="14.30" fill="#c2bc28"/>
<rect x="412.98" y="161.80" width="2.95" height="14.30" fill="#c5bf29"/>
<rect x="415.64" y="161.80" width="1.90" height="14.30" fill="#b4ad21"/>
<rect x="417.24" y="161.80" width="2.55" height="14.30" fill="#9e981d"/>
<rect x="419.49" y="161.80" width="2.36" height="14.30" fill="#bdb727"/>
<rect x="421.55" y="161.80" width="1.92" height="14.30" fill="#bfb927"/>
<rect x="423.17" y="161.80" width="2.84" height="14.30" fill="#afa921"/>
<rect x="425.72" y="161.80" width="1.82" height="14.30" fill="#b9b326"/>
<rect x="427.24" y="161.80" width="2.69" height="14.30" fill="#a9a31f"/>
<rect x="429.63" y="161.80" width="1.80" height="14.30" fill="#bbb423"/>
<rect x="431.13" y="161.80" width="2.32" height="14.30" fill="#d7d12c"/>
<rect x="433.15" y="161.80" width="1.96" height="14.30" fill="#aba520"/>
<rect x="434.81" y="161.80" width="2.06" height="14.30" fill="#1f1f0b"/>
<rect x="436.57" y="161.80" width="3.25" height="14.30" fill="#21210c"/>
<rect x="439.52" y="161.80" width="2.97" height="14.30" fill="#23230c"/>
<rect x="442.18" y="161.80" width="2.12" height="14.30" fill="#20200b"/>
<rect x="444.00" y="161.80" width="3.10" height="14.30" fill="#7c7619"/>
<rect x="446.81" y="161.80" width="1.96" height="14.30" fill="#716c17"/>
<rect x="448.46" y="161.80" width="2.27" height="14.30" fill="#807a1a"/>
<rect x="450.43" y="161.80" width="3.05" height="14.30" fill="#20200b"/>
<rect x="453.19" y="161.80" width="2.69" height="14.30" fill="#797418"/>
<rect x="455.58" y="161.80" width="1.77" height="14.30" fill="#22220c"/>
<rect x="457.05" y="161.80" width="3.28" height="14.30" fill="#25250d"/>
<rect x="460.03" y="161.80" width="1.96" height="14.30" fill="#23230c"/>
<rect x="461.69" y="161.80" width="2.04" height="14.30" fill="#25250d"/>
<rect x="463.43" y="161.80" width="2.91" height="14.30" fill="#24240d"/>
<rect x="466.05" y="161.80" width="2.16" height="14.30" fill="#7a7518"/>
<rect x="467.90" y="161.80" width="2.10" height="14.30" fill="#6e6a16"/>
<rect x="469.71" y="161.80" width="1.72" height="14.30" fill="#777218"/>
<rect x="471.13" y="161.80" width="1.75" height="14.30" fill="#20200b"/>
<rect x="472.59" y="161.80" width="2.59" height="14.30" fill="#0f3b51"/>
<rect x="474.88" y="161.80" width="2.01" height="14.30" fill="#091822"/>
<rect x="476.59" y="161.80" width="2.62" height="14.30" fill="#0a1b25"/>
<rect x="478.91" y="161.80" width="2.23" height="14.30" fill="#0e384d"/>
<rect x="480.84" y="161.80" width="2.37" height="14.30" fill="#103d54"/>
<rect x="482.92" y="161.80" width="3.23" height="14.30" fill="#0e364b"/>
<rect x="485.85" y="161.80" width="2.42" height="14.30" fill="#0f394f"/>
<rect x="487.97" y="161.80" width="2.58" height="14.30" fill="#0e364a"/>
<rect x="490.24" y="161.80" width="1.76" height="14.30" fill="#103f57"/>
<rect x="268.60" y="175.60" width="2.37" height="14.40" fill="#787419"/>
<rect x="270.67" y="175.60" width="2.55" height="14.40" fill="#9c961d"/>
<rect x="272.92" y="175.60" width="3.17" height="14.40" fill="#cfc92b"/>
<rect x="275.79" y="175.60" width="2.39" height="14.40" fill="#9f9a1e"/>
<rect x="277.88" y="175.60" width="2.46" height="14.40" fill="#9d971d"/>
<rect x="280.05" y="175.60" width="2.60" height="14.40" fill="#b2ac21"/>
<rect x="282.35" y="175.60" width="1.91" height="14.40" fill="#afa921"/>
<rect x="283.96" y="175.60" width="2.47" height="14.40" fill="#bab323"/>
<rect x="286.13" y="175.60" width="2.67" height="14.40" fill="#b5af22"/>
<rect x="288.50" y="175.60" width="2.95" height="14.40" fill="#b9b322"/>
<rect x="291.15" y="175.60" width="1.76" height="14.40" fill="#a9a31f"/>
<rect x="292.61" y="175.60" width="2.12" height="14.40" fill="#9f991e"/>
<rect x="294.42" y="175.60" width="1.75" height="14.40" fill="#ada720"/>
<rect x="295.88" y="175.60" width="2.98" height="14.40" fill="#636018"/>
<rect x="298.55" y="175.60" width="2.78" height="14.40" fill="#b4ae21"/>
<rect x="301.03" y="175.60" width="1.67" height="14.40" fill="#b9b322"/>
<rect x="302.40" y="175.60" width="3.27" height="14.40" fill="#bdb727"/>
<rect x="305.37" y="175.60" width="3.24" height="14.40" fill="#b9b222"/>
<rect x="308.31" y="175.60" width="2.71" height="14.40" fill="#b3ac21"/>
<rect x="310.73" y="175.60" width="2.65" height="14.40" fill="#cec82a"/>
<rect x="313.07" y="175.60" width="1.87" height="14.40" fill="#dbd52d"/>
<rect x="314.64" y="175.60" width="1.63" height="14.40" fill="#bcb523"/>
<rect x="315.97" y="175.60" width="2.50" height="14.40" fill="#a9a31f"/>
<rect x="318.16" y="175.60" width="1.70" height="14.40" fill="#d2cc2b"/>
<rect x="319.57" y="175.60" width="1.92" height="14.40" fill="#dcd62d"/>
<rect x="321.19" y="175.60" width="2.01" height="14.40" fill="#bdb727"/>
<rect x="322.90" y="175.60" width="1.65" height="14.40" fill="#9b951d"/>
<rect x="324.25" y="175.60" width="2.39" height="14.40" fill="#9c961d"/>
<rect x="326.34" y="175.60" width="2.35" height="14.40" fill="#bab323"/>
<rect x="328.39" y="175.60" width="3.03" height="14.40" fill="#a09a1e"/>
<rect x="331.12" y="175.60" width="2.48" height="14.40" fill="#34320e"/>
<rect x="333.30" y="175.60" width="2.69" height="14.40" fill="#21210c"/>
<rect x="335.69" y="175.60" width="2.45" height="14.40" fill="#817c1a"/>
<rect x="337.84" y="175.60" width="2.73" height="14.40" fill="#a29c1e"/>
<rect x="340.27" y="175.60" width="2.38" height="14.40" fill="#17170b"/>
<rect x="342.35" y="175.60" width="2.07" height="14.40" fill="#797418"/>
<rect x="344.12" y="175.60" width="3.30" height="14.40" fill="#b1ab21"/>
<rect x="347.11" y="175.60" width="3.29" height="14.40" fill="#25250d"/>
<rect x="350.11" y="175.60" width="3.03" height="14.40" fill="#7d7819"/>
<rect x="352.84" y="175.60" width="2.80" height="14.40" fill="#767118"/>
<rect x="355.34" y="175.60" width="2.14" height="14.40" fill="#1f1f0b"/>
<rect x="357.17" y="175.60" width="1.99" height="14.40" fill="#20200b"/>
<rect x="358.86" y="175.60" width="2.09" height="14.40" fill="#24240d"/>
<rect x="360.66" y="175.60" width="1.72" height="14.40" fill="#afa921"/>
<rect x="362.08" y="175.60" width="2.90" height="14.40" fill="#25250d"/>
<rect x="364.68" y="175.60" width="2.28" height="14.40" fill="#736e17"/>
<rect x="366.66" y="175.60" width="3.04" height="14.40" fill="#aba520"/>
<rect x="369.40" y="175.60" width="2.26" height="14.40" fill="#5e5b15"/>
<rect x="371.36" y="175.60" width="3.23" height="14.40" fill="#22220c"/>
<rect x="374.28" y="175.60" width="3.04" height="14.40" fill="#a09b1e"/>
<rect x="377.02" y="175.60" width="1.60" height="14.40" fill="#726d17"/>
<rect x="378.33" y="175.60" width="1.96" height="14.40" fill="#0a1a24"/>
<rect x="379.98" y="175.60" width="3.15" height="14.40" fill="#0b1c27"/>
<rect x="382.83" y="175.60" width="2.40" height="14.40" fill="#091821"/>
<rect x="384.93" y="175.60" width="3.27" height="14.40" fill="#165a7a"/>
<rect x="387.89" y="175.60" width="2.28" height="14.40" fill="#0e364b"/>
<rect x="389.87" y="175.60" width="1.72" height="14.40" fill="#176083"/>
<rect x="391.29" y="175.60" width="2.67" height="14.40" fill="#091821"/>
<rect x="393.66" y="175.60" width="2.92" height="14.40" fill="#0b1c26"/>
<rect x="396.29" y="175.60" width="2.06" height="14.40" fill="#1a6e95"/>
<rect x="398.05" y="175.60" width="1.75" height="14.40" fill="#186589"/>
<rect x="399.49" y="175.60" width="2.17" height="14.40" fill="#19698f"/>
<rect x="401.36" y="175.60" width="3.24" height="14.40" fill="#186386"/>
<rect x="404.30" y="175.60" width="2.89" height="14.40" fill="#186589"/>
<rect x="406.89" y="175.60" width="1.80" height="14.40" fill="#19688e"/>
<rect x="408.39" y="175.60" width="2.02" height="14.40" fill="#175f81"/>
<rect x="410.11" y="175.60" width="1.77" height="14.40" fill="#1a6b92"/>
<rect x="411.58" y="175.60" width="1.70" height="14.40" fill="#175f82"/>
<rect x="412.98" y="175.60" width="2.95" height="14.40" fill="#124158"/>
<rect x="415.64" y="175.60" width="1.90" height="14.40" fill="#1a6c92"/>
<rect x="417.24" y="175.60" width="2.55" height="14.40" fill="#19668b"/>
<rect x="419.49" y="175.60" width="2.36" height="14.40" fill="#196a90"/>
<rect x="421.55" y="175.60" width="1.92" height="14.40" fill="#19688e"/>
<rect x="423.17" y="175.60" width="2.84" height="14.40" fill="#165b7b"/>
<rect x="425.72" y="175.60" width="1.82" height="14.40" fill="#165e7f"/>
<rect x="427.24" y="175.60" width="2.69" height="14.40" fill="#18668a"/>
<rect x="429.63" y="175.60" width="1.80" height="14.40" fill="#113e53"/>
<rect x="431.13" y="175.60" width="2.32" height="14.40" fill="#19688d"/>
<rect x="433.15" y="175.60" width="1.96" height="14.40" fill="#19698e"/>
<rect x="434.81" y="175.60" width="2.06" height="14.40" fill="#19698f"/>
<rect x="436.57" y="175.60" width="3.25" height="14.40" fill="#19678c"/>
<rect x="439.52" y="175.60" width="2.97" height="14.40" fill="#0a1923"/>
<rect x="442.18" y="175.60" width="2.12" height="14.40" fill="#0a1a24"/>
<rect x="444.00" y="175.60" width="3.10" height="14.40" fill="#103d55"/>
<rect x="446.81" y="175.60" width="1.96" height="14.40" fill="#186387"/>
<rect x="448.46" y="175.60" width="2.27" height="14.40" fill="#0d2734"/>
<rect x="450.43" y="175.60" width="3.05" height="14.40" fill="#104058"/>
<rect x="453.19" y="175.60" width="2.69" height="14.40" fill="#186489"/>
<rect x="455.58" y="175.60" width="1.77" height="14.40" fill="#175f81"/>
<rect x="457.05" y="175.60" width="3.28" height="14.40" fill="#165c7d"/>
<rect x="460.03" y="175.60" width="1.96" height="14.40" fill="#186286"/>
<rect x="461.69" y="175.60" width="2.04" height="14.40" fill="#19688d"/>
<rect x="463.43" y="175.60" width="2.91" height="14.40" fill="#0f3b52"/>
<rect x="466.05" y="175.60" width="2.16" height="14.40" fill="#186589"/>
<rect x="467.90" y="175.60" width="2.10" height="14.40" fill="#165c7d"/>
<rect x="469.71" y="175.60" width="1.72" height="14.40" fill="#176184"/>
<rect x="471.13" y="175.60" width="1.75" height="14.40" fill="#0e374b"/>
<rect x="472.59" y="175.60" width="2.59" height="14.40" fill="#0c2734"/>
<rect x="474.88" y="175.60" width="2.01" height="14.40" fill="#103f57"/>
<rect x="476.59" y="175.60" width="2.62" height="14.40" fill="#186387"/>
<rect x="478.91" y="175.60" width="2.23" height="14.40" fill="#176285"/>
<rect x="480.84" y="175.60" width="2.37" height="14.40" fill="#186286"/>
<rect x="482.92" y="175.60" width="3.23" height="14.40" fill="#103e55"/>
<rect x="485.85" y="175.60" width="2.42" height="14.40" fill="#175e80"/>
<rect x="487.97" y="175.60" width="2.58" height="14.40" fill="#186387"/>
<rect x="490.24" y="175.60" width="1.76" height="14.40" fill="#103c53"/>
<rect x="268.60" y="189.50" width="2.37" height="14.50" fill="#ada720"/>
<rect x="270.67" y="189.50" width="2.55" height="14.50" fill="#b3ac21"/>
<rect x="272.92" y="189.50" width="3.17" height="14.50" fill="#7b7619"/>
<rect x="275.79" y="189.50" width="2.39" height="14.50" fill="#787318"/>
<rect x="277.88" y="189.50" width="2.46" height="14.50" fill="#a49e1f"/>
<rect x="280.05" y="189.50" width="2.60" height="14.50" fill="#b4ae21"/>
<rect x="282.35" y="189.50" width="1.91" height="14.50" fill="#b5af22"/>
<rect x="283.96" y="189.50" width="2.47" height="14.50" fill="#9c961d"/>
<rect x="286.13" y="189.50" width="2.67" height="14.50" fill="#777218"/>
<rect x="288.50" y="189.50" width="2.95" height="14.50" fill="#746f17"/>
<rect x="291.15" y="189.50" width="1.76" height="14.50" fill="#a59f1f"/>
<rect x="292.61" y="189.50" width="2.12" height="14.50" fill="#1f1f0b"/>
<rect x="294.42" y="189.50" width="1.75" height="14.50" fill="#6d6816"/>
<rect x="295.88" y="189.50" width="2.98" height="14.50" fill="#22220c"/>
<rect x="298.55" y="189.50" width="2.78" height="14.50" fill="#746f17"/>
<rect x="301.03" y="189.50" width="1.67" height="14.50" fill="#20200b"/>
<rect x="302.40" y="189.50" width="3.27" height="14.50" fill="#797418"/>
<rect x="305.37" y="189.50" width="3.24" height="14.50" fill="#757017"/>
<rect x="308.31" y="189.50" width="2.71" height="14.50" fill="#6e6a16"/>
<rect x="310.73" y="189.50" width="2.65" height="14.50" fill="#6f6b16"/>
<rect x="313.07" y="189.50" width="1.87" height="14.50" fill="#22220c"/>
<rect x="314.64" y="189.50" width="1.63" height="14.50" fill="#7c7719"/>
<rect x="315.97" y="189.50" width="2.50" height="14.50" fill="#797418"/>
<rect x="318.16" y="189.50" width="1.70" height="14.50" fill="#bcb523"/>
<rect x="319.57" y="189.50" width="1.92" height="14.50" fill="#7f7a19"/>
<rect x="321.19" y="189.50" width="2.01" height="14.50" fill="#1f1f0b"/>
<rect x="322.90" y="189.50" width="1.65" height="14.50" fill="#21210c"/>
<rect x="324.25" y="189.50" width="2.39" height="14.50" fill="#23230c"/>
<rect x="326.34" y="189.50" width="2.35" height="14.50" fill="#827d1a"/>
<rect x="328.39" y="189.50" width="3.03" height="14.50" fill="#7e7919"/>
<rect x="331.12" y="189.50" width="2.48" height="14.50" fill="#7d7819"/>
<rect x="333.30" y="189.50" width="2.69" height="14.50" fill="#7e7919"/>
<rect x="335.69" y="189.50" width="2.45" height="14.50" fill="#24240d"/>
<rect x="337.84" y="189.50" width="2.73" height="14.50" fill="#20200b"/>
<rect x="340.27" y="189.50" width="2.38" height="14.50" fill="#21210c"/>
<rect x="342.35" y="189.50" width="2.07" height="14.50" fill="#6f6a16"/>
<rect x="344.12" y="189.50" width="3.30" height="14.50" fill="#736e17"/>
<rect x="347.11" y="189.50" width="3.29" height="14.50" fill="#736e17"/>
<rect x="350.11" y="189.50" width="3.03" height="14.50" fill="#454310"/>
<rect x="352.84" y="189.50" width="2.80" height="14.50" fill="#7a7518"/>
<rect x="355.34" y="189.50" width="2.14" height="14.50" fill="#817c1a"/>
<rect x="357.17" y="189.50" width="1.99" height="14.50" fill="#7b7619"/>
<rect x="358.86" y="189.50" width="2.09" height="14.50" fill="#6d6816"/>
<rect x="360.66" y="189.50" width="1.72" height="14.50" fill="#b5af22"/>
<rect x="362.08" y="189.50" width="2.90" height="14.50" fill="#797418"/>
<rect x="364.68" y="189.50" width="2.28" height="14.50" fill="#a49f1f"/>
<rect x="366.66" y="189.50" width="3.04" height="14.50" fill="#757017"/>
<rect x="369.40" y="189.50" width="2.26" height="14.50" fill="#b6b022"/>
<rect x="371.36" y="189.50" width="3.23" height="14.50" fill="#736f17"/>
<rect x="374.28" y="189.50" width="3.04" height="14.50" fill="#a09a1e"/>
<rect x="377.02" y="189.50" width="1.60" height="14.50" fill="#a49e1e"/>
<rect x="378.33" y="189.50" width="1.96" height="14.50" fill="#0e3448"/>
<rect x="379.98" y="189.50" width="3.15" height="14.50" fill="#0e3448"/>
<rect x="382.83" y="189.50" width="2.40" height="14.50" fill="#103d54"/>
<rect x="384.93" y="189.50" width="3.27" height="14.50" fill="#103e56"/>
<rect x="387.89" y="189.50" width="2.28" height="14.50" fill="#0e374c"/>
<rect x="389.87" y="189.50" width="1.72" height="14.50" fill="#176083"/>
<rect x="391.29" y="189.50" width="2.67" height="14.50" fill="#0f394e"/>
<rect x="393.66" y="189.50" width="2.92" height="14.50" fill="#1a6a91"/>
<rect x="396.29" y="189.50" width="2.06" height="14.50" fill="#103c53"/>
<rect x="398.05" y="189.50" width="1.75" height="14.50" fill="#0f384e"/>
<rect x="399.49" y="189.50" width="2.17" height="14.50" fill="#103c53"/>
<rect x="401.36" y="189.50" width="3.24" height="14.50" fill="#0e374c"/>
<rect x="404.30" y="189.50" width="2.89" height="14.50" fill="#1a6c93"/>
<rect x="406.89" y="189.50" width="1.80" height="14.50" fill="#1a6e95"/>
<rect x="408.39" y="189.50" width="2.02" height="14.50" fill="#0e384d"/>
<rect x="410.11" y="189.50" width="1.77" height="14.50" fill="#103d54"/>
<rect x="411.58" y="189.50" width="1.70" height="14.50" fill="#19668b"/>
<rect x="412.98" y="189.50" width="2.95" height="14.50" fill="#0e3549"/>
<rect x="415.64" y="189.50" width="1.90" height="14.50" fill="#0a1a24"/>
<rect x="417.24" y="189.50" width="2.55" height="14.50" fill="#0a1923"/>
<rect x="419.49" y="189.50" width="2.36" height="14.50" fill="#0a1922"/>
<rect x="421.55" y="189.50" width="1.92" height="14.50" fill="#0a1923"/>
<rect x="423.17" y="189.50" width="2.84" height="14.50" fill="#0b1b26"/>
<rect x="425.72" y="189.50" width="1.82" height="14.50" fill="#0b1c26"/>
<rect x="427.24" y="189.50" width="2.69" height="14.50" fill="#2596ca"/>
<rect x="429.63" y="189.50" width="1.80" height="14.50" fill="#1a6b91"/>
<rect x="431.13" y="189.50" width="2.32" height="14.50" fill="#175e80"/>
<rect x="433.15" y="189.50" width="1.96" height="14.50" fill="#228ab9"/>
<rect x="434.81" y="189.50" width="2.06" height="14.50" fill="#186387"/>
<rect x="436.57" y="189.50" width="3.25" height="14.50" fill="#175f82"/>
<rect x="439.52" y="189.50" width="2.97" height="14.50" fill="#2596c9"/>
<rect x="442.18" y="189.50" width="2.12" height="14.50" fill="#11394d"/>
<rect x="444.00" y="189.50" width="3.10" height="14.50" fill="#1a6b92"/>
<rect x="446.81" y="189.50" width="1.96" height="14.50" fill="#2699cd"/>
<rect x="448.46" y="189.50" width="2.27" height="14.50" fill="#186285"/>
<rect x="450.43" y="189.50" width="3.05" height="14.50" fill="#1a6b92"/>
<rect x="453.19" y="189.50" width="2.69" height="14.50" fill="#176083"/>
<rect x="455.58" y="189.50" width="1.77" height="14.50" fill="#176082"/>
<rect x="457.05" y="189.50" width="3.28" height="14.50" fill="#186286"/>
<rect x="460.03" y="189.50" width="1.96" height="14.50" fill="#176285"/>
<rect x="461.69" y="189.50" width="2.04" height="14.50" fill="#176082"/>
<rect x="463.43" y="189.50" width="2.91" height="14.50" fill="#2289b7"/>
<rect x="466.05" y="189.50" width="2.16" height="14.50" fill="#279dd3"/>
<rect x="467.90" y="189.50" width="2.10" height="14.50" fill="#103749"/>
<rect x="469.71" y="189.50" width="1.72" height="14.50" fill="#0e374c"/>
<rect x="471.13" y="189.50" width="1.75" height="14.50" fill="#175f81"/>
<rect x="472.59" y="189.50" width="2.59" height="14.50" fill="#186589"/>
<rect x="474.88" y="189.50" width="2.01" height="14.50" fill="#0e3549"/>
<rect x="476.59" y="189.50" width="2.62" height="14.50" fill="#124157"/>
<rect x="478.91" y="189.50" width="2.23" height="14.50" fill="#104058"/>
<rect x="480.84" y="189.50" width="2.37" height="14.50" fill="#186488"/>
<rect x="482.92" y="189.50" width="3.23" height="14.50" fill="#18658a"/>
<rect x="485.85" y="189.50" width="2.42" height="14.50" fill="#176082"/>
<rect x="487.97" y="189.50" width="2.58" height="14.50" fill="#104058"/>
<rect x="490.24" y="189.50" width="1.76" height="14.50" fill="#0c2633"/>
<rect x="268.60" y="203.50" width="2.37" height="14.00" fill="#23230c"/>
<rect x="270.67" y="203.50" width="2.55" height="14.00" fill="#24240d"/>
<rect x="272.92" y="203.50" width="3.17" height="14.00" fill="#0a1a24"/>
<rect x="275.79" y="203.50" width="2.39" height="14.00" fill="#18180b"/>
<rect x="277.88" y="203.50" width="2.46" height="14.00" fill="#0b1c26"/>
<rect x="280.05" y="203.50" width="2.60" height="14.00" fill="#736f17"/>
<rect x="282.35" y="203.50" width="1.91" height="14.00" fill="#25250d"/>
<rect x="283.96" y="203.50" width="2.47" height="14.00" fill="#726d17"/>
<rect x="286.13" y="203.50" width="2.67" height="14.00" fill="#1f1f0b"/>
<rect x="288.50" y="203.50" width="2.95" height="14.00" fill="#21210c"/>
<rect x="291.15" y="203.50" width="1.76" height="14.00" fill="#24240d"/>
<rect x="292.61" y="203.50" width="2.12" height="14.00" fill="#747017"/>
<rect x="294.42" y="203.50" width="1.75" height="14.00" fill="#23230c"/>
<rect x="295.88" y="203.50" width="2.98" height="14.00" fill="#0a1b26"/>
<rect x="298.55" y="203.50" width="2.78" height="14.00" fill="#0a1a24"/>
<rect x="301.03" y="203.50" width="1.67" height="14.00" fill="#0a1923"/>
<rect x="302.40" y="203.50" width="3.27" height="14.00" fill="#21210c"/>
<rect x="305.37" y="203.50" width="3.24" height="14.00" fill="#19190b"/>
<rect x="308.31" y="203.50" width="2.71" height="14.00" fill="#0b1c26"/>
<rect x="310.73" y="203.50" width="2.65" height="14.00" fill="#25250d"/>
<rect x="313.07" y="203.50" width="1.87" height="14.00" fill="#7a7518"/>
<rect x="314.64" y="203.50" width="1.63" height="14.00" fill="#bcb523"/>
<rect x="315.97" y="203.50" width="2.50" height="14.00" fill="#b6af22"/>
<rect x="318.16" y="203.50" width="1.70" height="14.00" fill="#9d981d"/>
<rect x="319.57" y="203.50" width="1.92" height="14.00" fill="#b9b322"/>
<rect x="321.19" y="203.50" width="2.01" height="14.00" fill="#706b16"/>
<rect x="322.90" y="203.50" width="1.65" height="14.00" fill="#646016"/>
<rect x="324.25" y="203.50" width="2.39" height="14.00" fill="#b9b322"/>
<rect x="326.34" y="203.50" width="2.35" height="14.00" fill="#aca620"/>
<rect x="328.39" y="203.50" width="3.03" height="14.00" fill="#6f6a16"/>
<rect x="331.12" y="203.50" width="2.48" height="14.00" fill="#aaa420"/>
<rect x="333.30" y="203.50" width="2.69" height="14.00" fill="#aca620"/>
<rect x="335.69" y="203.50" width="2.45" height="14.00" fill="#423f10"/>
<rect x="337.84" y="203.50" width="2.73" height="14.00" fill="#736f17"/>
<rect x="340.27" y="203.50" width="2.38" height="14.00" fill="#a09a1e"/>
<rect x="342.35" y="203.50" width="2.07" height="14.00" fill="#b4ae22"/>
<rect x="344.12" y="203.50" width="3.30" height="14.00" fill="#bdb623"/>
<rect x="347.11" y="203.50" width="3.29" height="14.00" fill="#d6d02c"/>
<rect x="350.11" y="203.50" width="3.03" height="14.00" fill="#c1bb28"/>
<rect x="352.84" y="203.50" width="2.80" height="14.00" fill="#d9d32d"/>
<rect x="355.34" y="203.50" width="2.14" height="14.00" fill="#bdb623"/>
<rect x="357.17" y="203.50" width="1.99" height="14.00" fill="#d5ce2c"/>
<rect x="358.86" y="203.50" width="2.09" height="14.00" fill="#aaa420"/>
<rect x="360.66" y="203.50" width="1.72" height="14.00" fill="#a29c1e"/>
<rect x="362.08" y="203.50" width="2.90" height="14.00" fill="#20200b"/>
<rect x="364.68" y="203.50" width="2.28" height="14.00" fill="#b6b022"/>
<rect x="366.66" y="203.50" width="3.04" height="14.00" fill="#6e6916"/>
<rect x="369.40" y="203.50" width="2.26" height="14.00" fill="#7e7919"/>
<rect x="371.36" y="203.50" width="3.23" height="14.00" fill="#7f7a19"/>
<rect x="374.28" y="203.50" width="3.04" height="14.00" fill="#a19b1e"/>
<rect x="377.02" y="203.50" width="1.60" height="14.00" fill="#bcb523"/>
<rect x="378.33" y="203.50" width="1.96" height="14.00" fill="#0e364a"/>
<rect x="379.98" y="203.50" width="3.15" height="14.00" fill="#0e3548"/>
<rect x="382.83" y="203.50" width="2.40" height="14.00" fill="#103f56"/>
<rect x="384.93" y="203.50" width="3.27" height="14.00" fill="#186589"/>
<rect x="387.89" y="203.50" width="2.28" height="14.00" fill="#18658a"/>
<rect x="389.87" y="203.50" width="1.72" height="14.00" fill="#0e3448"/>
<rect x="391.29" y="203.50" width="2.67" height="14.00" fill="#103e56"/>
<rect x="393.66" y="203.50" width="2.92" height="14.00" fill="#0a1b25"/>
<rect x="396.29" y="203.50" width="2.06" height="14.00" fill="#0b1b26"/>
<rect x="398.05" y="203.50" width="1.75" height="14.00" fill="#0a1a24"/>
<rect x="399.49" y="203.50" width="2.17" height="14.00" fill="#0a1922"/>
<rect x="401.36" y="203.50" width="3.24" height="14.00" fill="#0a1923"/>
<rect x="404.30" y="203.50" width="2.89" height="14.00" fill="#0a1b25"/>
<rect x="406.89" y="203.50" width="1.80" height="14.00" fill="#103e56"/>
<rect x="408.39" y="203.50" width="2.02" height="14.00" fill="#091821"/>
<rect x="410.11" y="203.50" width="1.77" height="14.00" fill="#176185"/>
<rect x="411.58" y="203.50" width="1.70" height="14.00" fill="#186387"/>
<rect x="412.98" y="203.50" width="2.95" height="14.00" fill="#238ebe"/>
<rect x="415.64" y="203.50" width="1.90" height="14.00" fill="#2492c4"/>
<rect x="417.24" y="203.50" width="2.55" height="14.00" fill="#279dd3"/>
<rect x="419.49" y="203.50" width="2.36" height="14.00" fill="#2597cb"/>
<rect x="421.55" y="203.50" width="1.92" height="14.00" fill="#176285"/>
<rect x="423.17" y="203.50" width="2.84" height="14.00" fill="#2490c2"/>
<rect x="425.72" y="203.50" width="1.82" height="14.00" fill="#176183"/>
<rect x="427.24" y="203.50" width="2.69" height="14.00" fill="#176082"/>
<rect x="429.63" y="203.50" width="1.80" height="14.00" fill="#19678d"/>
<rect x="431.13" y="203.50" width="2.32" height="14.00" fill="#186286"/>
<rect x="433.15" y="203.50" width="1.96" height="14.00" fill="#1a6c93"/>
<rect x="434.81" y="203.50" width="2.06" height="14.00" fill="#186286"/>
<rect x="436.57" y="203.50" width="3.25" height="14.00" fill="#1a6a91"/>
<rect x="439.52" y="203.50" width="2.97" height="14.00" fill="#18668a"/>
<rect x="442.18" y="203.50" width="2.12" height="14.00" fill="#165c7d"/>
<rect x="444.00" y="203.50" width="3.10" height="14.00" fill="#0a151d"/>
<rect x="446.81" y="203.50" width="1.96" height="14.00" fill="#103c53"/>
<rect x="448.46" y="203.50" width="2.27" height="14.00" fill="#0a1b25"/>
<rect x="450.43" y="203.50" width="3.05" height="14.00" fill="#0a1923"/>
<rect x="453.19" y="203.50" width="2.69" height="14.00" fill="#0a1a24"/>
<rect x="455.58" y="203.50" width="1.77" height="14.00" fill="#0b1c27"/>
<rect x="457.05" y="203.50" width="3.28" height="14.00" fill="#0a1a24"/>
<rect x="460.03" y="203.50" width="1.96" height="14.00" fill="#103c53"/>
<rect x="461.69" y="203.50" width="2.04" height="14.00" fill="#0b1d28"/>
<rect x="463.43" y="203.50" width="2.91" height="14.00" fill="#103f57"/>
<rect x="466.05" y="203.50" width="2.16" height="14.00" fill="#0e374b"/>
<rect x="467.90" y="203.50" width="2.10" height="14.00" fill="#0a1a24"/>
<rect x="469.71" y="203.50" width="1.72" height="14.00" fill="#091720"/>
<rect x="471.13" y="203.50" width="1.75" height="14.00" fill="#0f3b52"/>
<rect x="472.59" y="203.50" width="2.59" height="14.00" fill="#0a1b25"/>
<rect x="474.88" y="203.50" width="2.01" height="14.00" fill="#196a90"/>
<rect x="476.59" y="203.50" width="2.62" height="14.00" fill="#165d7f"/>
<rect x="478.91" y="203.50" width="2.23" height="14.00" fill="#1a6d94"/>
<rect x="480.84" y="203.50" width="2.37" height="14.00" fill="#0e354a"/>
<rect x="482.92" y="203.50" width="3.23" height="14.00" fill="#103d54"/>
<rect x="485.85" y="203.50" width="2.42" height="14.00" fill="#0e3549"/>
<rect x="487.97" y="203.50" width="2.58" height="14.00" fill="#0f3a50"/>
<rect x="490.24" y="203.50" width="1.76" height="14.00" fill="#196a90"/>
<text x="14.70" y="268.90" font-size="8.72" font-weight="bold">i. Down-regulated in LCs</text>
<text x="75.00" y="283.80" font-size="8.7" font-weight="bold">Blood vessel formation</text>
<rect x="168.16" y="291.70" width="53.04" height="3.60" fill="#2b3b78"/>
<text x="166.16" y="295.30" font-size="5.2" text-anchor="end" fill="#333">2.8E-04</text>
<text x="224.20" y="295.70" font-size="6.2" fill="#222">Tube development</text>
<rect x="153.89" y="299.05" width="67.31" height="3.60" fill="#2b3b78"/>
<text x="151.89" y="302.65" font-size="5.2" text-anchor="end" fill="#333">3.1E-05</text>
<text x="224.20" y="303.05" font-size="6.2" fill="#222">Branching morphogenesis of a tube</text>
<rect x="95.14" y="306.40" width="126.06" height="3.60" fill="#2b3b78"/>
<text x="93.14" y="310.00" font-size="5.2" text-anchor="end" fill="#333">3.6E-09</text>
<text x="224.20" y="310.40" font-size="6.2" fill="#222">Angiogenesis</text>
<rect x="63.17" y="313.75" width="158.03" height="3.60" fill="#2b3b78"/>
<text x="61.17" y="317.35" font-size="5.2" text-anchor="end" fill="#333">2.6E-11</text>
<text x="224.20" y="317.75" font-size="6.2" fill="#222">Blood vessel morphogenesis</text>
<rect x="36.72" y="321.10" width="184.48" height="3.60" fill="#2b3b78"/>
<text x="34.72" y="324.70" font-size="5.2" text-anchor="end" fill="#333">4.4E-13</text>
<text x="224.20" y="325.10" font-size="6.2" fill="#222">Vasculature development</text>
<line x1="24.40" y1="327.00" x2="221.70" y2="327.00" stroke="#000" stroke-width="1.2"/>
<line x1="221.20" y1="289.70" x2="221.20" y2="327.60" stroke="#000" stroke-width="1.2"/>
<line x1="27.11" y1="327.00" x2="27.11" y2="329.60" stroke="#000" stroke-width="1.1"/>
<line x1="56.97" y1="327.00" x2="56.97" y2="329.60" stroke="#000" stroke-width="1.1"/>
<line x1="86.83" y1="327.00" x2="86.83" y2="329.60" stroke="#000" stroke-width="1.1"/>
<line x1="116.69" y1="327.00" x2="116.69" y2="329.60" stroke="#000" stroke-width="1.1"/>
<line x1="146.55" y1="327.00" x2="146.55" y2="329.60" stroke="#000" stroke-width="1.1"/>
<line x1="176.41" y1="327.00" x2="176.41" y2="329.60" stroke="#000" stroke-width="1.1"/>
<line x1="206.27" y1="327.00" x2="206.27" y2="329.60" stroke="#000" stroke-width="1.1"/>
<text x="27.11" y="338.30" font-size="6.1" text-anchor="middle" fill="#222">1.E-13</text>
<text x="56.97" y="338.30" font-size="6.1" text-anchor="middle" fill="#222">1.E-11</text>
<text x="86.83" y="338.30" font-size="6.1" text-anchor="middle" fill="#222">1.E-9</text>
<text x="116.69" y="338.30" font-size="6.1" text-anchor="middle" fill="#222">1.E-7</text>
<text x="146.55" y="338.30" font-size="6.1" text-anchor="middle" fill="#222">1.E-5</text>
<text x="176.41" y="338.30" font-size="6.1" text-anchor="middle" fill="#222">1.E-3</text>
<text x="206.27" y="338.30" font-size="6.1" text-anchor="middle" fill="#222">1.E-1</text>
<text x="219.80" y="338.00" font-size="6.4" font-weight="bold" font-style="italic">p</text>
<text x="154.60" y="354.30" font-size="8.7" font-weight="bold">Cell proliferation</text>
<rect x="177.49" y="361.10" width="43.21" height="3.60" fill="#2b3b78"/>
<text x="175.49" y="364.70" font-size="5.2" text-anchor="end" fill="#333">1.5E-03</text>
<text x="224.20" y="365.10" font-size="6.2" fill="#222">Growth factor receptor</text>
<rect x="188.01" y="368.40" width="32.69" height="3.60" fill="#2b3b78"/>
<text x="186.01" y="372.00" font-size="5.2" text-anchor="end" fill="#333">7.3E-03</text>
<text x="224.20" y="372.40" font-size="6.2" fill="#222">Growth factor activity</text>
<rect x="162.62" y="375.70" width="58.08" height="3.60" fill="#2b3b78"/>
<text x="160.62" y="379.30" font-size="5.2" text-anchor="end" fill="#333">1.6E-04</text>
<text x="224.20" y="379.70" font-size="6.2" fill="#222">Positive regulation of cell division</text>
<line x1="158.00" y1="382.60" x2="221.20" y2="382.60" stroke="#000" stroke-width="1.2"/>
<line x1="220.70" y1="359.10" x2="220.70" y2="383.20" stroke="#000" stroke-width="1.2"/>
<line x1="159.50" y1="382.60" x2="159.50" y2="385.20" stroke="#000" stroke-width="1.1"/>
<line x1="190.10" y1="382.60" x2="190.10" y2="385.20" stroke="#000" stroke-width="1.1"/>
<line x1="220.70" y1="382.60" x2="220.70" y2="385.20" stroke="#000" stroke-width="1.1"/>
<text x="159.50" y="393.90" font-size="6.1" text-anchor="middle" fill="#222">1.E-4</text>
<text x="190.10" y="393.90" font-size="6.1" text-anchor="middle" fill="#222">1.E-2</text>
<text x="220.70" y="393.90" font-size="6.1" text-anchor="middle" fill="#222">1.E+0</text>
<text x="233.20" y="393.20" font-size="6.4" font-weight="bold" font-style="italic">p</text>
<text x="136.90" y="409.20" font-size="8.7" font-weight="bold">Cell migration</text>
<rect x="140.37" y="415.50" width="79.93" height="3.60" fill="#2b3b78"/>
<text x="138.37" y="419.10" font-size="5.2" text-anchor="end" fill="#333">5.3E-06</text>
<text x="224.20" y="419.50" font-size="6.2" fill="#222">Cell leading edge</text>
<rect x="138.01" y="422.90" width="82.29" height="3.60" fill="#2b3b78"/>
<text x="136.01" y="426.50" font-size="5.2" text-anchor="end" fill="#333">3.7E-06</text>
<text x="224.20" y="426.90" font-size="6.2" fill="#222">Positive regulation of cell migration</text>
<rect x="120.79" y="430.30" width="99.51" height="3.60" fill="#2b3b78"/>
<text x="118.79" y="433.90" font-size="5.2" text-anchor="end" fill="#333">2.7E-07</text>
<text x="224.20" y="434.30" font-size="6.2" fill="#222">Regulation of cell migration</text>
<rect x="138.68" y="437.70" width="81.62" height="3.60" fill="#2b3b78"/>
<text x="136.68" y="441.30" font-size="5.2" text-anchor="end" fill="#333">4.1E-06</text>
<text x="224.20" y="441.70" font-size="6.2" fill="#222">Cell migration</text>
<line x1="111.45" y1="444.30" x2="220.80" y2="444.30" stroke="#000" stroke-width="1.2"/>
<line x1="220.30" y1="413.50" x2="220.30" y2="444.90" stroke="#000" stroke-width="1.2"/>
<line x1="114.25" y1="444.30" x2="114.25" y2="446.90" stroke="#000" stroke-width="1.1"/>
<line x1="129.40" y1="444.30" x2="129.40" y2="446.90" stroke="#000" stroke-width="1.1"/>
<line x1="144.55" y1="444.30" x2="144.55" y2="446.90" stroke="#000" stroke-width="1.1"/>
<line x1="159.70" y1="444.30" x2="159.70" y2="446.90" stroke="#000" stroke-width="1.1"/>
<line x1="174.85" y1="444.30" x2="174.85" y2="446.90" stroke="#000" stroke-width="1.1"/>
<line x1="190.00" y1="444.30" x2="190.00" y2="446.90" stroke="#000" stroke-width="1.1"/>
<line x1="205.15" y1="444.30" x2="205.15" y2="446.90" stroke="#000" stroke-width="1.1"/>
<line x1="220.30" y1="444.30" x2="220.30" y2="446.90" stroke="#000" stroke-width="1.1"/>
<text x="118.25" y="451.90" font-size="6.0" text-anchor="end" fill="#222" transform="rotate(-45 118.25 451.90)">1.E-7</text>
<text x="133.40" y="451.90" font-size="6.0" text-anchor="end" fill="#222" transform="rotate(-45 133.40 451.90)">1.E-6</text>
<text x="148.55" y="451.90" font-size="6.0" text-anchor="end" fill="#222" transform="rotate(-45 148.55 451.90)">1.E-5</text>
<text x="163.70" y="451.90" font-size="6.0" text-anchor="end" fill="#222" transform="rotate(-45 163.70 451.90)">1.E-4</text>
<text x="178.85" y="451.90" font-size="6.0" text-anchor="end" fill="#222" transform="rotate(-45 178.85 451.90)">1.E-3</text>
<text x="194.00" y="451.90" font-size="6.0" text-anchor="end" fill="#222" transform="rotate(-45 194.00 451.90)">1.E-2</text>
<text x="209.15" y="451.90" font-size="6.0" text-anchor="end" fill="#222" transform="rotate(-45 209.15 451.90)">1.E-1</text>
<text x="224.30" y="451.90" font-size="6.0" text-anchor="end" fill="#222" transform="rotate(-45 224.30 451.90)">1.E+0</text>
<text x="231.50" y="455.00" font-size="6.4" font-weight="bold" font-style="italic">p</text>
<text x="78.20" y="478.60" font-size="8.7" font-weight="bold">Intercellular and cell-matrix interaction</text>
<rect x="186.26" y="485.80" width="34.04" height="3.60" fill="#2b3b78"/>
<text x="184.26" y="489.40" font-size="5.2" text-anchor="end" fill="#333">5.7E-03</text>
<text x="224.20" y="489.80" font-size="6.2" fill="#222">Cell-substrate adhesion</text>
<rect x="145.65" y="493.19" width="74.65" height="3.60" fill="#2b3b78"/>
<text x="143.65" y="496.79" font-size="5.2" text-anchor="end" fill="#333">1.2E-05</text>
<text x="224.20" y="497.19" font-size="6.2" fill="#222">Extracellular matrix</text>
<rect x="147.95" y="500.58" width="72.35" height="3.60" fill="#2b3b78"/>
<text x="145.95" y="504.18" font-size="5.2" text-anchor="end" fill="#333">1.7E-05</text>
<text x="224.20" y="504.58" font-size="6.2" fill="#222">Basement membrane</text>
<rect x="101.61" y="507.97" width="118.69" height="3.60" fill="#2b3b78"/>
<text x="99.61" y="511.57" font-size="5.2" text-anchor="end" fill="#333">1.5E-08</text>
<text x="224.20" y="511.97" font-size="6.2" fill="#222">Basolateral plasma membrane</text>
<rect x="168.92" y="515.36" width="51.38" height="3.60" fill="#2b3b78"/>
<text x="166.92" y="518.96" font-size="5.2" text-anchor="end" fill="#333">4.1E-04</text>
<text x="224.20" y="519.36" font-size="6.2" fill="#222">Focal adhesion</text>
<rect x="169.95" y="522.75" width="50.35" height="3.60" fill="#2b3b78"/>
<text x="167.95" y="526.35" font-size="5.2" text-anchor="end" fill="#333">4.8E-04</text>
<text x="224.20" y="526.75" font-size="6.2" fill="#222">Cell-cell adherens junction</text>
<rect x="112.56" y="530.14" width="107.74" height="3.60" fill="#2b3b78"/>
<text x="110.56" y="533.74" font-size="5.2" text-anchor="end" fill="#333">7.9E-08</text>
<text x="224.20" y="534.14" font-size="6.2" fill="#222">Adherens junction</text>
<rect x="158.39" y="537.53" width="61.91" height="3.60" fill="#2b3b78"/>
<text x="156.39" y="541.13" font-size="5.2" text-anchor="end" fill="#333">8.3E-05</text>
<text x="224.20" y="541.53" font-size="6.2" fill="#222">Gap junction</text>
<rect x="153.90" y="544.92" width="66.40" height="3.60" fill="#2b3b78"/>
<text x="151.90" y="548.52" font-size="5.2" text-anchor="end" fill="#333">4.2E-05</text>
<text x="224.20" y="548.92" font-size="6.2" fill="#222">Cell junction assembly</text>
<rect x="139.33" y="552.31" width="80.97" height="3.60" fill="#2b3b78"/>
<text x="137.33" y="555.91" font-size="5.2" text-anchor="end" fill="#333">4.6E-06</text>
<text x="224.20" y="556.31" font-size="6.2" fill="#222">Cell-cell Junction</text>
<rect x="152.89" y="559.70" width="67.41" height="3.60" fill="#2b3b78"/>
<text x="150.89" y="563.30" font-size="5.2" text-anchor="end" fill="#333">3.6E-05</text>
<text x="224.20" y="563.70" font-size="6.2" fill="#222">Regulation of cell adhesion</text>
<rect x="158.85" y="567.09" width="61.45" height="3.60" fill="#2b3b78"/>
<text x="156.85" y="570.69" font-size="5.2" text-anchor="end" fill="#333">8.9E-05</text>
<text x="224.20" y="571.09" font-size="6.2" fill="#222">Cell adhesion</text>
<line x1="96.14" y1="573.70" x2="220.80" y2="573.70" stroke="#000" stroke-width="1.2"/>
<line x1="220.30" y1="483.80" x2="220.30" y2="574.30" stroke="#000" stroke-width="1.2"/>
<line x1="98.94" y1="573.70" x2="98.94" y2="576.30" stroke="#000" stroke-width="1.1"/>
<line x1="114.11" y1="573.70" x2="114.11" y2="576.30" stroke="#000" stroke-width="1.1"/>
<line x1="129.28" y1="573.70" x2="129.28" y2="576.30" stroke="#000" stroke-width="1.1"/>
<line x1="144.45" y1="573.70" x2="144.45" y2="576.30" stroke="#000" stroke-width="1.1"/>
<line x1="159.62" y1="573.70" x2="159.62" y2="576.30" stroke="#000" stroke-width="1.1"/>
<line x1="174.79" y1="573.70" x2="174.79" y2="576.30" stroke="#000" stroke-width="1.1"/>
<line x1="189.96" y1="573.70" x2="189.96" y2="576.30" stroke="#000" stroke-width="1.1"/>
<line x1="205.13" y1="573.70" x2="205.13" y2="576.30" stroke="#000" stroke-width="1.1"/>
<line x1="220.30" y1="573.70" x2="220.30" y2="576.30" stroke="#000" stroke-width="1.1"/>
<text x="102.94" y="581.30" font-size="6.0" text-anchor="end" fill="#222" transform="rotate(-45 102.94 581.30)">1.E-8</text>
<text x="118.11" y="581.30" font-size="6.0" text-anchor="end" fill="#222" transform="rotate(-45 118.11 581.30)">1.E-7</text>
<text x="133.28" y="581.30" font-size="6.0" text-anchor="end" fill="#222" transform="rotate(-45 133.28 581.30)">1.E-6</text>
<text x="148.45" y="581.30" font-size="6.0" text-anchor="end" fill="#222" transform="rotate(-45 148.45 581.30)">1.E-5</text>
<text x="163.62" y="581.30" font-size="6.0" text-anchor="end" fill="#222" transform="rotate(-45 163.62 581.30)">1.E-4</text>
<text x="178.79" y="581.30" font-size="6.0" text-anchor="end" fill="#222" transform="rotate(-45 178.79 581.30)">1.E-3</text>
<text x="193.96" y="581.30" font-size="6.0" text-anchor="end" fill="#222" transform="rotate(-45 193.96 581.30)">1.E-2</text>
<text x="209.13" y="581.30" font-size="6.0" text-anchor="end" fill="#222" transform="rotate(-45 209.13 581.30)">1.E-1</text>
<text x="224.30" y="581.30" font-size="6.0" text-anchor="end" fill="#222" transform="rotate(-45 224.30 581.30)">1.E+0</text>
<text x="231.20" y="585.00" font-size="6.4" font-weight="bold" font-style="italic">p</text>
</svg>
</body></html>
